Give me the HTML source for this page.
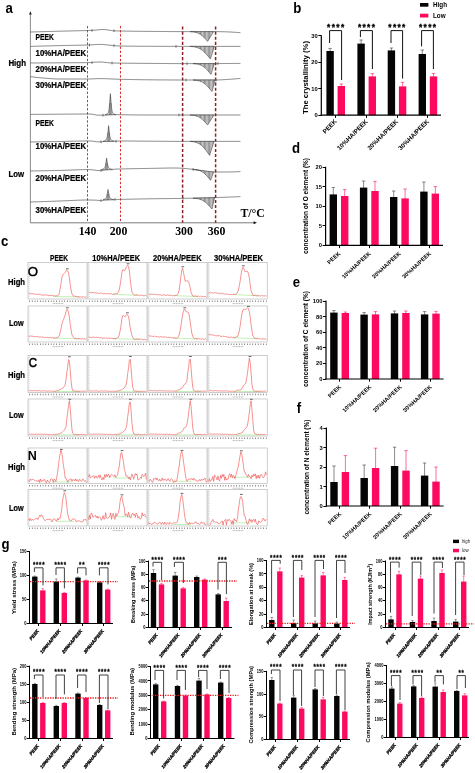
<!DOCTYPE html>
<html lang="en">
<head>
<meta charset="utf-8">
<title>Figure</title>
<style>html,body{margin:0;padding:0;background:#fff}body{width:475px;height:773px;overflow:hidden}svg{display:block;will-change:transform}</style>
</head>
<body>
<svg width="475" height="773" viewBox="0 0 475 773" style="display:block">
<rect x="0" y="0" width="475" height="773" fill="#fff"/>
<defs><pattern id="hatch" width="1.3" height="4" patternUnits="userSpaceOnUse"><rect width="1.3" height="4" fill="#c9c9c9"/><rect width="0.5" height="4" fill="#7d7d7d"/></pattern></defs>
<line x1="30.4" y1="13" x2="30.4" y2="222.8" stroke="#5a5a5a" stroke-width="0.7"/>
<path d="M30.4 11.2 L29 14.6 L31.8 14.6 Z" stroke="none" stroke-width="0" fill="#222"/>
<line x1="30.4" y1="222.8" x2="254.5" y2="222.8" stroke="#5a5a5a" stroke-width="0.8"/>
<path d="M257 222.8 L253.6 221.3 L253.6 224.3 Z" stroke="none" stroke-width="0" fill="#111"/>
<line x1="87.5" y1="26" x2="87.5" y2="222.8" stroke="#d8262a" stroke-width="0.95" stroke-dasharray="2.4 1.7"/>
<line x1="120.5" y1="26" x2="120.5" y2="222.8" stroke="#d8262a" stroke-width="0.95" stroke-dasharray="2.4 1.7"/>
<line x1="182.6" y1="26.5" x2="182.6" y2="222.8" stroke="#8c2024" stroke-width="1.5" stroke-dasharray="3.1 2.0"/>
<line x1="215.6" y1="26.5" x2="215.6" y2="222.8" stroke="#8c2024" stroke-width="1.5" stroke-dasharray="3.1 2.0"/>
<path d="M30.4 32 L31.4 31.97 L32.4 31.94 L33.4 31.92 L34.4 31.89 L35.4 31.86 L36.4 31.83 L37.4 31.81 L38.4 31.78 L39.4 31.75 L40.4 31.72 L41.4 31.7 L42.4 31.67 L43.4 31.64 L44.4 31.61 L45.4 31.59 L46.4 31.56 L47.4 31.53 L48.4 31.51 L49.4 31.48 L50.4 31.45 L51.4 31.43 L52.4 31.4 L53.4 31.37 L54.4 31.35 L55.4 31.32 L56.4 31.29 L57.4 31.27 L58.4 31.24 L59.4 31.22 L60.4 31.19 L61.4 31.16 L62.4 31.14 L63.4 31.11 L64.4 31.09 L65.4 31.06 L66.4 31.04 L67.4 31.01 L68.4 30.99 L69.4 30.96 L70.4 30.94 L71.4 30.91 L72.4 30.89 L73.4 30.86 L74.4 30.84 L75.4 30.81 L76.4 30.79 L77.4 30.76 L78.4 30.74 L79.4 30.71 L80.4 30.69 L81.4 30.66 L82.4 30.64 L83.4 30.61 L84.4 30.59 L85.4 30.56 L86.4 30.54 L87.4 30.51 L88.4 30.49 L89.4 30.47 L90.4 30.45 L91.4 30.42 L92.4 30.38 L93.4 30.32 L94.4 30.24 L95.4 30.14 L96.4 30.03 L97.4 29.91 L98.4 29.8 L99.4 29.7 L100.4 29.61 L101.4 29.54 L102.4 29.51 L103.4 29.5 L104.4 29.55 L105.4 29.64 L106.4 29.76 L107.4 29.91 L108.4 30.07 L109.4 30.23 L110.4 30.39 L111.4 30.54 L112.4 30.67 L113.4 30.76 L114.4 30.82 L115.4 30.86 L116.4 30.9 L117.4 30.93 L118.4 30.96 L119.4 30.99 L120.4 31.01 L121.4 31.03 L122.4 31.05 L123.4 31.07 L124.4 31.09 L125.4 31.1 L126.4 31.12 L127.4 31.14 L128.4 31.15 L129.4 31.17 L130.4 31.18 L131.4 31.2 L132.4 31.21 L133.4 31.23 L134.4 31.24 L135.4 31.25 L136.4 31.26 L137.4 31.28 L138.4 31.29 L139.4 31.3 L140.4 31.31 L141.4 31.32 L142.4 31.33 L143.4 31.34 L144.4 31.35 L145.4 31.36 L146.4 31.37 L147.4 31.38 L148.4 31.39 L149.4 31.39 L150.4 31.4 L151.4 31.41 L152.4 31.42 L153.4 31.43 L154.4 31.44 L155.4 31.45 L156.4 31.46 L157.4 31.46 L158.4 31.47 L159.4 31.48 L160.4 31.49 L161.4 31.5 L162.4 31.51 L163.4 31.51 L164.4 31.52 L165.4 31.53 L166.4 31.54 L167.4 31.54 L168.4 31.55 L169.4 31.56 L170.4 31.56 L171.4 31.57 L172.4 31.57 L173.4 31.58 L174.4 31.58 L175.4 31.59 L176.4 31.59 L177.4 31.59 L178.4 31.6 L179.4 31.6 L180.4 31.6 L181.4 31.6 L182.4 31.6 L183.4 31.6 L184.4 31.6 L185.4 31.6 L186.4 31.6 L187.4 31.6 L188.4 31.6 L189.4 31.6 L190.4 31.6 L191.4 31.6 L192.4 31.6 L193.4 31.6 L194.4 31.6 L195.4 31.6 L196.4 31.6 L197.4 31.6 L198.4 31.6 L199.4 31.6 L200.4 31.6 L201.4 31.6 L202.4 31.6 L203.4 31.6 L204.4 31.6 L205.4 31.6 L206.4 31.6 L207.4 31.6 L208.4 31.6 L209.4 31.6 L210.4 31.6 L211.4 31.6 L212.4 31.6 L213.4 31.6 L214.4 31.6 L215.4 31.6 L216.4 31.61 L217.4 31.63 L218.4 31.64 L219.4 31.66 L220.4 31.68 L221.4 31.71 L222.4 31.73 L223.4 31.76 L224.4 31.78 L225.4 31.81 L226.4 31.84 L227.4 31.88 L228.4 31.92 L229.4 31.97 L230.4 32.02 L231.4 32.07 L232.4 32.13 L233.4 32.19 L234.4 32.25 L235.4 32.32 L236.4 32.39 L237.4 32.46 L238.4 32.54 L239.4 32.62 L240.4 32.7" stroke="#404040" stroke-width="0.65" fill="none"/>
<rect x="91.5" y="29.1" width="1" height="2.6" fill="#6a6a6a"/>
<rect x="113.5" y="29.5" width="1" height="2.6" fill="#6a6a6a"/>
<path d="M190 31.6 C199.68 31.9 202.67 36.01 207.6 41.4 L213.6 31.6 Z" stroke="#404040" stroke-width="0.55" fill="url(#hatch)"/>
<path d="M30.4 46.4 L31.4 46.37 L32.4 46.34 L33.4 46.31 L34.4 46.28 L35.4 46.25 L36.4 46.22 L37.4 46.2 L38.4 46.17 L39.4 46.14 L40.4 46.11 L41.4 46.08 L42.4 46.05 L43.4 46.03 L44.4 46 L45.4 45.97 L46.4 45.95 L47.4 45.92 L48.4 45.89 L49.4 45.87 L50.4 45.84 L51.4 45.81 L52.4 45.79 L53.4 45.76 L54.4 45.74 L55.4 45.71 L56.4 45.69 L57.4 45.66 L58.4 45.64 L59.4 45.61 L60.4 45.59 L61.4 45.57 L62.4 45.55 L63.4 45.52 L64.4 45.5 L65.4 45.48 L66.4 45.47 L67.4 45.45 L68.4 45.43 L69.4 45.41 L70.4 45.39 L71.4 45.37 L72.4 45.36 L73.4 45.34 L74.4 45.32 L75.4 45.3 L76.4 45.28 L77.4 45.26 L78.4 45.24 L79.4 45.22 L80.4 45.2 L81.4 45.18 L82.4 45.15 L83.4 45.13 L84.4 45.1 L85.4 45.08 L86.4 45.05 L87.4 45.02 L88.4 44.99 L89.4 44.94 L90.4 44.89 L91.4 44.83 L92.4 44.76 L93.4 44.69 L94.4 44.63 L95.4 44.56 L96.4 44.51 L97.4 44.46 L98.4 44.42 L99.4 44.4 L100.4 44.4 L101.4 44.42 L102.4 44.47 L103.4 44.53 L104.4 44.61 L105.4 44.7 L106.4 44.81 L107.4 44.92 L108.4 45.03 L109.4 45.14 L110.4 45.26 L111.4 45.36 L112.4 45.46 L113.4 45.55 L114.4 45.63 L115.4 45.71 L116.4 45.79 L117.4 45.87 L118.4 45.94 L119.4 45.98 L120.4 46.01 L121.4 46.03 L122.4 46.05 L123.4 46.06 L124.4 46.08 L125.4 46.1 L126.4 46.11 L127.4 46.13 L128.4 46.14 L129.4 46.15 L130.4 46.16 L131.4 46.18 L132.4 46.19 L133.4 46.2 L134.4 46.2 L135.4 46.21 L136.4 46.22 L137.4 46.23 L138.4 46.24 L139.4 46.24 L140.4 46.25 L141.4 46.26 L142.4 46.26 L143.4 46.27 L144.4 46.27 L145.4 46.28 L146.4 46.28 L147.4 46.29 L148.4 46.29 L149.4 46.3 L150.4 46.3 L151.4 46.31 L152.4 46.31 L153.4 46.32 L154.4 46.32 L155.4 46.33 L156.4 46.33 L157.4 46.33 L158.4 46.34 L159.4 46.34 L160.4 46.35 L161.4 46.35 L162.4 46.36 L163.4 46.36 L164.4 46.36 L165.4 46.37 L166.4 46.37 L167.4 46.37 L168.4 46.38 L169.4 46.38 L170.4 46.38 L171.4 46.39 L172.4 46.39 L173.4 46.39 L174.4 46.39 L175.4 46.39 L176.4 46.4 L177.4 46.4 L178.4 46.4 L179.4 46.4 L180.4 46.4 L181.4 46.4 L182.4 46.4 L183.4 46.4 L184.4 46.4 L185.4 46.4 L186.4 46.4 L187.4 46.4 L188.4 46.4 L189.4 46.4 L190.4 46.4 L191.4 46.4 L192.4 46.4 L193.4 46.4 L194.4 46.4 L195.4 46.4 L196.4 46.4 L197.4 46.4 L198.4 46.4 L199.4 46.4 L200.4 46.4 L201.4 46.4 L202.4 46.4 L203.4 46.4 L204.4 46.4 L205.4 46.4 L206.4 46.4 L207.4 46.4 L208.4 46.4 L209.4 46.4 L210.4 46.4 L211.4 46.4 L212.4 46.4 L213.4 46.4 L214.4 46.4 L215.4 46.4 L216.4 46.4 L217.4 46.4 L218.4 46.4 L219.4 46.4 L220.4 46.4 L221.4 46.4 L222.4 46.4 L223.4 46.4 L224.4 46.4 L225.4 46.4 L226.4 46.4 L227.4 46.4 L228.4 46.4 L229.4 46.4 L230.4 46.4 L231.4 46.4 L232.4 46.4 L233.4 46.4 L234.4 46.4 L235.4 46.4 L236.4 46.4 L237.4 46.4 L238.4 46.4 L239.4 46.4 L240.4 46.4" stroke="#404040" stroke-width="0.65" fill="none"/>
<rect x="89" y="43.7" width="1" height="2.6" fill="#6a6a6a"/>
<rect x="113.5" y="44.3" width="1" height="2.6" fill="#6a6a6a"/>
<rect x="175.5" y="45.1" width="1" height="2.6" fill="#6a6a6a"/>
<path d="M190 46.4 C201.22 46.7 204.69 52.07 210.4 59 L214.4 46.4 Z" stroke="#404040" stroke-width="0.55" fill="url(#hatch)"/>
<path d="M30.4 63 L31.4 62.99 L32.4 62.99 L33.4 62.98 L34.4 62.97 L35.4 62.97 L36.4 62.96 L37.4 62.95 L38.4 62.95 L39.4 62.94 L40.4 62.93 L41.4 62.93 L42.4 62.92 L43.4 62.91 L44.4 62.91 L45.4 62.9 L46.4 62.89 L47.4 62.89 L48.4 62.88 L49.4 62.87 L50.4 62.87 L51.4 62.86 L52.4 62.85 L53.4 62.85 L54.4 62.84 L55.4 62.83 L56.4 62.82 L57.4 62.82 L58.4 62.81 L59.4 62.8 L60.4 62.8 L61.4 62.79 L62.4 62.78 L63.4 62.78 L64.4 62.77 L65.4 62.77 L66.4 62.76 L67.4 62.76 L68.4 62.75 L69.4 62.75 L70.4 62.74 L71.4 62.74 L72.4 62.73 L73.4 62.73 L74.4 62.72 L75.4 62.72 L76.4 62.71 L77.4 62.7 L78.4 62.7 L79.4 62.69 L80.4 62.68 L81.4 62.67 L82.4 62.66 L83.4 62.65 L84.4 62.64 L85.4 62.63 L86.4 62.62 L87.4 62.61 L88.4 62.59 L89.4 62.56 L90.4 62.52 L91.4 62.46 L92.4 62.39 L93.4 62.32 L94.4 62.25 L95.4 62.18 L96.4 62.12 L97.4 62.07 L98.4 62.03 L99.4 62 L100.4 62 L101.4 62.03 L102.4 62.1 L103.4 62.18 L104.4 62.28 L105.4 62.4 L106.4 62.52 L107.4 62.63 L108.4 62.75 L109.4 62.85 L110.4 62.93 L111.4 62.98 L112.4 63.01 L113.4 63.03 L114.4 63.05 L115.4 63.07 L116.4 63.09 L117.4 63.1 L118.4 63.12 L119.4 63.13 L120.4 63.15 L121.4 63.16 L122.4 63.18 L123.4 63.19 L124.4 63.2 L125.4 63.21 L126.4 63.22 L127.4 63.23 L128.4 63.24 L129.4 63.25 L130.4 63.26 L131.4 63.27 L132.4 63.28 L133.4 63.28 L134.4 63.29 L135.4 63.3 L136.4 63.31 L137.4 63.31 L138.4 63.32 L139.4 63.33 L140.4 63.33 L141.4 63.34 L142.4 63.35 L143.4 63.35 L144.4 63.36 L145.4 63.37 L146.4 63.37 L147.4 63.38 L148.4 63.39 L149.4 63.4 L150.4 63.4 L151.4 63.41 L152.4 63.42 L153.4 63.43 L154.4 63.44 L155.4 63.44 L156.4 63.45 L157.4 63.46 L158.4 63.47 L159.4 63.48 L160.4 63.49 L161.4 63.49 L162.4 63.5 L163.4 63.51 L164.4 63.52 L165.4 63.53 L166.4 63.53 L167.4 63.54 L168.4 63.55 L169.4 63.55 L170.4 63.56 L171.4 63.57 L172.4 63.57 L173.4 63.58 L174.4 63.58 L175.4 63.59 L176.4 63.59 L177.4 63.59 L178.4 63.6 L179.4 63.6 L180.4 63.6 L181.4 63.6 L182.4 63.6 L183.4 63.6 L184.4 63.6 L185.4 63.6 L186.4 63.6 L187.4 63.6 L188.4 63.6 L189.4 63.6 L190.4 63.6 L191.4 63.6 L192.4 63.6 L193.4 63.6 L194.4 63.6 L195.4 63.6 L196.4 63.6 L197.4 63.59 L198.4 63.59 L199.4 63.59 L200.4 63.59 L201.4 63.59 L202.4 63.59 L203.4 63.59 L204.4 63.59 L205.4 63.58 L206.4 63.58 L207.4 63.58 L208.4 63.58 L209.4 63.58 L210.4 63.57 L211.4 63.57 L212.4 63.57 L213.4 63.56 L214.4 63.56 L215.4 63.56 L216.4 63.55 L217.4 63.55 L218.4 63.55 L219.4 63.54 L220.4 63.54 L221.4 63.53 L222.4 63.53 L223.4 63.52 L224.4 63.52 L225.4 63.51 L226.4 63.51 L227.4 63.5 L228.4 63.5 L229.4 63.49 L230.4 63.48 L231.4 63.48 L232.4 63.47 L233.4 63.46 L234.4 63.45 L235.4 63.44 L236.4 63.44 L237.4 63.43 L238.4 63.42 L239.4 63.41 L240.4 63.4" stroke="#404040" stroke-width="0.65" fill="none"/>
<rect x="91.5" y="61.3" width="1" height="2.6" fill="#6a6a6a"/>
<rect x="111.5" y="61.7" width="1" height="2.6" fill="#6a6a6a"/>
<rect x="186.5" y="62.3" width="1" height="2.6" fill="#6a6a6a"/>
<rect x="217.5" y="62.2" width="1" height="2.6" fill="#6a6a6a"/>
<path d="M193 63.6 C202.9 63.9 205.96 68.46 211 74.4 L214.4 63.6 Z" stroke="#404040" stroke-width="0.55" fill="url(#hatch)"/>
<path d="M30.4 76.6 L31.4 76.74 L32.4 76.87 L33.4 77 L34.4 77.13 L35.4 77.25 L36.4 77.37 L37.4 77.49 L38.4 77.6 L39.4 77.7 L40.4 77.8 L41.4 77.9 L42.4 77.99 L43.4 78.08 L44.4 78.16 L45.4 78.23 L46.4 78.3 L47.4 78.38 L48.4 78.45 L49.4 78.52 L50.4 78.6 L51.4 78.66 L52.4 78.73 L53.4 78.79 L54.4 78.84 L55.4 78.89 L56.4 78.93 L57.4 78.96 L58.4 78.99 L59.4 79 L60.4 79 L61.4 79 L62.4 79 L63.4 79 L64.4 79 L65.4 79 L66.4 79 L67.4 79 L68.4 79 L69.4 79 L70.4 79 L71.4 79 L72.4 79 L73.4 79 L74.4 79 L75.4 79 L76.4 79 L77.4 79 L78.4 79 L79.4 79 L80.4 79 L81.4 79 L82.4 79 L83.4 79 L84.4 79 L85.4 79 L86.4 79 L87.4 79 L88.4 79 L89.4 78.98 L90.4 78.96 L91.4 78.92 L92.4 78.88 L93.4 78.83 L94.4 78.78 L95.4 78.73 L96.4 78.69 L97.4 78.65 L98.4 78.62 L99.4 78.6 L100.4 78.6 L101.4 78.61 L102.4 78.62 L103.4 78.64 L104.4 78.67 L105.4 78.7 L106.4 78.74 L107.4 78.78 L108.4 78.82 L109.4 78.86 L110.4 78.91 L111.4 78.96 L112.4 79.01 L113.4 79.05 L114.4 79.1 L115.4 79.14 L116.4 79.18 L117.4 79.22 L118.4 79.26 L119.4 79.29 L120.4 79.31 L121.4 79.33 L122.4 79.35 L123.4 79.38 L124.4 79.4 L125.4 79.42 L126.4 79.44 L127.4 79.46 L128.4 79.48 L129.4 79.5 L130.4 79.52 L131.4 79.54 L132.4 79.56 L133.4 79.57 L134.4 79.59 L135.4 79.61 L136.4 79.63 L137.4 79.64 L138.4 79.66 L139.4 79.67 L140.4 79.69 L141.4 79.7 L142.4 79.71 L143.4 79.73 L144.4 79.74 L145.4 79.75 L146.4 79.76 L147.4 79.77 L148.4 79.78 L149.4 79.79 L150.4 79.8 L151.4 79.81 L152.4 79.82 L153.4 79.83 L154.4 79.84 L155.4 79.85 L156.4 79.86 L157.4 79.87 L158.4 79.88 L159.4 79.88 L160.4 79.89 L161.4 79.9 L162.4 79.91 L163.4 79.92 L164.4 79.92 L165.4 79.93 L166.4 79.94 L167.4 79.95 L168.4 79.95 L169.4 79.96 L170.4 79.96 L171.4 79.97 L172.4 79.98 L173.4 79.98 L174.4 79.98 L175.4 79.99 L176.4 79.99 L177.4 79.99 L178.4 80 L179.4 80 L180.4 80 L181.4 80 L182.4 80 L183.4 80 L184.4 80 L185.4 80 L186.4 80 L187.4 80 L188.4 80 L189.4 80 L190.4 80 L191.4 80 L192.4 80 L193.4 80 L194.4 80 L195.4 80 L196.4 80 L197.4 80 L198.4 80 L199.4 80 L200.4 80 L201.4 80 L202.4 80 L203.4 80 L204.4 80 L205.4 80 L206.4 80 L207.4 80 L208.4 80 L209.4 80 L210.4 80 L211.4 80 L212.4 80 L213.4 80 L214.4 80 L215.4 80 L216.4 79.99 L217.4 79.97 L218.4 79.94 L219.4 79.9 L220.4 79.85 L221.4 79.8 L222.4 79.74 L223.4 79.69 L224.4 79.62 L225.4 79.56 L226.4 79.5 L227.4 79.44 L228.4 79.38 L229.4 79.31 L230.4 79.25 L231.4 79.18 L232.4 79.1 L233.4 79.02 L234.4 78.94 L235.4 78.86 L236.4 78.77 L237.4 78.68 L238.4 78.59 L239.4 78.5 L240.4 78.4" stroke="#404040" stroke-width="0.65" fill="none"/>
<rect x="185.5" y="78.7" width="1" height="2.6" fill="#6a6a6a"/>
<rect x="215.5" y="78.7" width="1" height="2.6" fill="#6a6a6a"/>
<path d="M193 80 C203.45 80.3 206.68 85.22 212 91.6 L215 80 Z" stroke="#404040" stroke-width="0.55" fill="url(#hatch)"/>
<path d="M30.4 114.4 L31.4 114.39 L32.4 114.39 L33.4 114.38 L34.4 114.37 L35.4 114.37 L36.4 114.36 L37.4 114.35 L38.4 114.35 L39.4 114.34 L40.4 114.33 L41.4 114.33 L42.4 114.32 L43.4 114.31 L44.4 114.31 L45.4 114.3 L46.4 114.29 L47.4 114.29 L48.4 114.28 L49.4 114.27 L50.4 114.27 L51.4 114.26 L52.4 114.25 L53.4 114.25 L54.4 114.24 L55.4 114.23 L56.4 114.22 L57.4 114.22 L58.4 114.21 L59.4 114.2 L60.4 114.2 L61.4 114.19 L62.4 114.18 L63.4 114.17 L64.4 114.17 L65.4 114.16 L66.4 114.15 L67.4 114.14 L68.4 114.13 L69.4 114.12 L70.4 114.11 L71.4 114.1 L72.4 114.09 L73.4 114.08 L74.4 114.07 L75.4 114.06 L76.4 114.05 L77.4 114.05 L78.4 114.04 L79.4 114.03 L80.4 114.03 L81.4 114.02 L82.4 114.01 L83.4 114.01 L84.4 114.01 L85.4 114 L86.4 114 L87.4 114 L88.4 114 L89.4 114.03 L90.4 114.09 L91.4 114.16 L92.4 114.25 L93.4 114.35 L94.4 114.54 L95.4 114.78 L96.4 115.01 L97.4 115.17 L98.4 115.2 L99.4 115.2 L100.4 115.2 L101.4 115.2 L102.4 115.2 L103.4 115.2 L104.4 115.19 L105.4 115.09 L106.4 114.94 L107.4 114.82 L108.4 114.74 L109.4 114.66 L110.4 114.59 L111.4 114.54 L112.4 114.51 L113.4 114.5 L114.4 114.52 L115.4 114.55 L116.4 114.58 L117.4 114.62 L118.4 114.66 L119.4 114.69 L120.4 114.71 L121.4 114.72 L122.4 114.74 L123.4 114.75 L124.4 114.77 L125.4 114.79 L126.4 114.8 L127.4 114.81 L128.4 114.83 L129.4 114.84 L130.4 114.86 L131.4 114.87 L132.4 114.88 L133.4 114.89 L134.4 114.91 L135.4 114.92 L136.4 114.93 L137.4 114.94 L138.4 114.95 L139.4 114.95 L140.4 114.96 L141.4 114.97 L142.4 114.98 L143.4 114.98 L144.4 114.99 L145.4 114.99 L146.4 114.99 L147.4 115 L148.4 115 L149.4 115 L150.4 115 L151.4 115 L152.4 115 L153.4 115 L154.4 115 L155.4 115 L156.4 115 L157.4 115 L158.4 115 L159.4 115 L160.4 115 L161.4 115 L162.4 115 L163.4 115 L164.4 115 L165.4 115 L166.4 115 L167.4 115 L168.4 115 L169.4 115 L170.4 115 L171.4 115 L172.4 115 L173.4 115 L174.4 115 L175.4 115 L176.4 115 L177.4 115 L178.4 115 L179.4 115 L180.4 115 L181.4 115 L182.4 115 L183.4 115 L184.4 115 L185.4 115 L186.4 115 L187.4 115 L188.4 115 L189.4 115 L190.4 115 L191.4 115 L192.4 115 L193.4 115 L194.4 115 L195.4 115 L196.4 115 L197.4 115 L198.4 115 L199.4 115 L200.4 115 L201.4 115 L202.4 115 L203.4 115 L204.4 115 L205.4 115 L206.4 115 L207.4 115 L208.4 115 L209.4 115 L210.4 115 L211.4 115 L212.4 115 L213.4 115 L214.4 115 L215.4 115 L216.4 115 L217.4 115 L218.4 115 L219.4 115 L220.4 115 L221.4 115 L222.4 115 L223.4 115 L224.4 115 L225.4 115 L226.4 115 L227.4 115 L228.4 115 L229.4 115 L230.4 115 L231.4 115 L232.4 115 L233.4 115 L234.4 115 L235.4 115 L236.4 115 L237.4 115 L238.4 115 L239.4 115 L240.4 115" stroke="#404040" stroke-width="0.65" fill="none"/>
<rect x="102.5" y="113.9" width="1" height="2.6" fill="#6a6a6a"/>
<path d="M105 114.8 L107.2 113.9 C109.12 113.2 109.4 106.32 110.4 93.6 C111.4 106.32 111.68 113.2 113.6 113.9 L115.8 114.8 Z" stroke="#404040" stroke-width="0.55" fill="#d4d4d4"/>
<line x1="110.4" y1="95.1" x2="110.4" y2="114.8" stroke="#404040" stroke-width="0.45"/>
<line x1="109.5" y1="103.14" x2="109.5" y2="114.8" stroke="#404040" stroke-width="0.4"/>
<line x1="111.3" y1="103.14" x2="111.3" y2="114.8" stroke="#404040" stroke-width="0.4"/>
<rect x="178.5" y="113.7" width="1" height="2.6" fill="#6a6a6a"/>
<path d="M190 115 C199.68 115.3 202.67 119.5 207.6 125 L214 115 Z" stroke="#404040" stroke-width="0.55" fill="url(#hatch)"/>
<path d="M30.4 142 L31.4 141.98 L32.4 141.97 L33.4 141.95 L34.4 141.93 L35.4 141.92 L36.4 141.9 L37.4 141.88 L38.4 141.87 L39.4 141.85 L40.4 141.83 L41.4 141.82 L42.4 141.8 L43.4 141.78 L44.4 141.77 L45.4 141.75 L46.4 141.73 L47.4 141.72 L48.4 141.7 L49.4 141.68 L50.4 141.67 L51.4 141.65 L52.4 141.63 L53.4 141.61 L54.4 141.6 L55.4 141.58 L56.4 141.56 L57.4 141.55 L58.4 141.53 L59.4 141.51 L60.4 141.49 L61.4 141.47 L62.4 141.45 L63.4 141.43 L64.4 141.41 L65.4 141.39 L66.4 141.37 L67.4 141.34 L68.4 141.32 L69.4 141.3 L70.4 141.27 L71.4 141.25 L72.4 141.23 L73.4 141.2 L74.4 141.18 L75.4 141.16 L76.4 141.14 L77.4 141.12 L78.4 141.1 L79.4 141.08 L80.4 141.06 L81.4 141.05 L82.4 141.04 L83.4 141.03 L84.4 141.02 L85.4 141.01 L86.4 141 L87.4 141 L88.4 141 L89.4 141.02 L90.4 141.06 L91.4 141.1 L92.4 141.16 L93.4 141.24 L94.4 141.41 L95.4 141.61 L96.4 141.77 L97.4 141.8 L98.4 141.8 L99.4 141.8 L100.4 141.8 L101.4 141.79 L102.4 141.7 L103.4 141.56 L104.4 141.44 L105.4 141.39 L106.4 141.36 L107.4 141.34 L108.4 141.32 L109.4 141.31 L110.4 141.29 L111.4 141.28 L112.4 141.27 L113.4 141.26 L114.4 141.24 L115.4 141.22 L116.4 141.19 L117.4 141.13 L118.4 141.06 L119.4 141.01 L120.4 141 L121.4 141 L122.4 141 L123.4 141 L124.4 141.01 L125.4 141.01 L126.4 141.02 L127.4 141.02 L128.4 141.03 L129.4 141.03 L130.4 141.04 L131.4 141.05 L132.4 141.05 L133.4 141.06 L134.4 141.07 L135.4 141.08 L136.4 141.09 L137.4 141.1 L138.4 141.11 L139.4 141.11 L140.4 141.12 L141.4 141.13 L142.4 141.14 L143.4 141.15 L144.4 141.16 L145.4 141.17 L146.4 141.17 L147.4 141.18 L148.4 141.19 L149.4 141.2 L150.4 141.2 L151.4 141.21 L152.4 141.22 L153.4 141.22 L154.4 141.23 L155.4 141.24 L156.4 141.25 L157.4 141.26 L158.4 141.26 L159.4 141.27 L160.4 141.28 L161.4 141.29 L162.4 141.3 L163.4 141.31 L164.4 141.31 L165.4 141.32 L166.4 141.33 L167.4 141.34 L168.4 141.34 L169.4 141.35 L170.4 141.36 L171.4 141.36 L172.4 141.37 L173.4 141.38 L174.4 141.38 L175.4 141.38 L176.4 141.39 L177.4 141.39 L178.4 141.4 L179.4 141.4 L180.4 141.4 L181.4 141.4 L182.4 141.4 L183.4 141.4 L184.4 141.4 L185.4 141.4 L186.4 141.4 L187.4 141.4 L188.4 141.4 L189.4 141.4 L190.4 141.4 L191.4 141.4 L192.4 141.4 L193.4 141.4 L194.4 141.4 L195.4 141.4 L196.4 141.4 L197.4 141.4 L198.4 141.4 L199.4 141.4 L200.4 141.4 L201.4 141.4 L202.4 141.4 L203.4 141.4 L204.4 141.4 L205.4 141.4 L206.4 141.4 L207.4 141.4 L208.4 141.4 L209.4 141.4 L210.4 141.4 L211.4 141.4 L212.4 141.4 L213.4 141.4 L214.4 141.4 L215.4 141.4 L216.4 141.4 L217.4 141.4 L218.4 141.4 L219.4 141.4 L220.4 141.4 L221.4 141.4 L222.4 141.4 L223.4 141.4 L224.4 141.4 L225.4 141.4 L226.4 141.4 L227.4 141.4 L228.4 141.4 L229.4 141.4 L230.4 141.4 L231.4 141.4 L232.4 141.4 L233.4 141.4 L234.4 141.4 L235.4 141.4 L236.4 141.4 L237.4 141.4 L238.4 141.4 L239.4 141.4 L240.4 141.4" stroke="#404040" stroke-width="0.65" fill="none"/>
<rect x="100.5" y="140.5" width="1" height="2.6" fill="#6a6a6a"/>
<rect x="115.5" y="139.9" width="1" height="2.6" fill="#6a6a6a"/>
<path d="M103 141.4 L105.2 140.5 C107.24 139.8 107.6 135.08 108.6 125.6 C109.6 135.08 109.96 139.8 112 140.5 L114.2 141.4 Z" stroke="#404040" stroke-width="0.55" fill="#d4d4d4"/>
<line x1="108.6" y1="127.1" x2="108.6" y2="141.4" stroke="#404040" stroke-width="0.45"/>
<line x1="107.7" y1="132.71" x2="107.7" y2="141.4" stroke="#404040" stroke-width="0.4"/>
<line x1="109.5" y1="132.71" x2="109.5" y2="141.4" stroke="#404040" stroke-width="0.4"/>
<path d="M190 141.4 C200.78 141.7 204.11 147.7 209.6 155.4 L214 141.4 Z" stroke="#404040" stroke-width="0.55" fill="url(#hatch)"/>
<path d="M30.4 171 L31.4 170.98 L32.4 170.97 L33.4 170.95 L34.4 170.93 L35.4 170.92 L36.4 170.9 L37.4 170.88 L38.4 170.86 L39.4 170.84 L40.4 170.82 L41.4 170.8 L42.4 170.78 L43.4 170.77 L44.4 170.74 L45.4 170.72 L46.4 170.7 L47.4 170.68 L48.4 170.66 L49.4 170.64 L50.4 170.62 L51.4 170.6 L52.4 170.57 L53.4 170.55 L54.4 170.53 L55.4 170.51 L56.4 170.48 L57.4 170.46 L58.4 170.44 L59.4 170.41 L60.4 170.39 L61.4 170.36 L62.4 170.34 L63.4 170.31 L64.4 170.27 L65.4 170.24 L66.4 170.2 L67.4 170.17 L68.4 170.13 L69.4 170.09 L70.4 170.05 L71.4 170.01 L72.4 169.98 L73.4 169.94 L74.4 169.9 L75.4 169.87 L76.4 169.83 L77.4 169.8 L78.4 169.77 L79.4 169.74 L80.4 169.71 L81.4 169.68 L82.4 169.66 L83.4 169.64 L84.4 169.63 L85.4 169.61 L86.4 169.61 L87.4 169.6 L88.4 169.6 L89.4 169.63 L90.4 169.69 L91.4 169.76 L92.4 169.85 L93.4 169.95 L94.4 170.12 L95.4 170.32 L96.4 170.47 L97.4 170.5 L98.4 170.5 L99.4 170.5 L100.4 170.5 L101.4 170.48 L102.4 170.32 L103.4 170.1 L104.4 169.96 L105.4 169.85 L106.4 169.76 L107.4 169.68 L108.4 169.61 L109.4 169.54 L110.4 169.47 L111.4 169.41 L112.4 169.35 L113.4 169.29 L114.4 169.24 L115.4 169.19 L116.4 169.14 L117.4 169.1 L118.4 169.06 L119.4 169.02 L120.4 168.99 L121.4 168.96 L122.4 168.93 L123.4 168.9 L124.4 168.88 L125.4 168.85 L126.4 168.83 L127.4 168.8 L128.4 168.78 L129.4 168.76 L130.4 168.74 L131.4 168.72 L132.4 168.7 L133.4 168.68 L134.4 168.66 L135.4 168.64 L136.4 168.63 L137.4 168.61 L138.4 168.59 L139.4 168.58 L140.4 168.56 L141.4 168.54 L142.4 168.53 L143.4 168.51 L144.4 168.49 L145.4 168.48 L146.4 168.46 L147.4 168.44 L148.4 168.43 L149.4 168.41 L150.4 168.39 L151.4 168.37 L152.4 168.35 L153.4 168.33 L154.4 168.31 L155.4 168.29 L156.4 168.27 L157.4 168.25 L158.4 168.23 L159.4 168.21 L160.4 168.19 L161.4 168.17 L162.4 168.15 L163.4 168.13 L164.4 168.11 L165.4 168.09 L166.4 168.08 L167.4 168.06 L168.4 168.05 L169.4 168.03 L170.4 168.02 L171.4 168.01 L172.4 168.01 L173.4 168 L174.4 168 L175.4 168 L176.4 168.01 L177.4 168.04 L178.4 168.08 L179.4 168.13 L180.4 168.19 L181.4 168.25 L182.4 168.33 L183.4 168.4 L184.4 168.48 L185.4 168.55 L186.4 168.63 L187.4 168.72 L188.4 168.83 L189.4 168.95 L190.4 169.07 L191.4 169.2 L192.4 169.33 L193.4 169.45 L194.4 169.58 L195.4 169.72 L196.4 169.87 L197.4 170.03 L198.4 170.19 L199.4 170.36 L200.4 170.53 L201.4 170.69 L202.4 170.86 L203.4 171.02 L204.4 171.18 L205.4 171.33 L206.4 171.46 L207.4 171.59 L208.4 171.7 L209.4 171.8 L210.4 171.88 L211.4 171.94 L212.4 171.98 L213.4 172 L214.4 172 L215.4 172 L216.4 172 L217.4 172 L218.4 172 L219.4 172 L220.4 172 L221.4 172 L222.4 172 L223.4 172 L224.4 172 L225.4 172 L226.4 172 L227.4 171.99 L228.4 171.97 L229.4 171.96 L230.4 171.94 L231.4 171.91 L232.4 171.89 L233.4 171.86 L234.4 171.83 L235.4 171.79 L236.4 171.76 L237.4 171.72 L238.4 171.68 L239.4 171.64 L240.4 171.6" stroke="#404040" stroke-width="0.65" fill="none"/>
<rect x="100.5" y="169.2" width="1" height="2.6" fill="#6a6a6a"/>
<rect x="192.5" y="168.1" width="1" height="2.6" fill="#6a6a6a"/>
<path d="M101.4 169.7 L103.6 168.8 C105.4 168.1 105.6 165.02 106.6 158 C107.6 165.02 108.04 168.1 110.2 168.8 L112.4 169.7 Z" stroke="#404040" stroke-width="0.55" fill="#d4d4d4"/>
<line x1="106.6" y1="159.5" x2="106.6" y2="169.7" stroke="#404040" stroke-width="0.45"/>
<line x1="105.7" y1="163.26" x2="105.7" y2="169.7" stroke="#404040" stroke-width="0.4"/>
<line x1="107.5" y1="163.26" x2="107.5" y2="169.7" stroke="#404040" stroke-width="0.4"/>
<path d="M193 169.4 C202.68 169.7 205.67 174.35 210.6 180.4 L213.6 172 Z" stroke="#404040" stroke-width="0.55" fill="url(#hatch)"/>
<path d="M30.4 202 L31.4 201.97 L32.4 201.93 L33.4 201.9 L34.4 201.87 L35.4 201.84 L36.4 201.8 L37.4 201.77 L38.4 201.74 L39.4 201.7 L40.4 201.67 L41.4 201.64 L42.4 201.6 L43.4 201.57 L44.4 201.53 L45.4 201.5 L46.4 201.47 L47.4 201.43 L48.4 201.4 L49.4 201.36 L50.4 201.33 L51.4 201.3 L52.4 201.26 L53.4 201.23 L54.4 201.19 L55.4 201.16 L56.4 201.12 L57.4 201.09 L58.4 201.06 L59.4 201.02 L60.4 200.99 L61.4 200.95 L62.4 200.91 L63.4 200.87 L64.4 200.83 L65.4 200.78 L66.4 200.73 L67.4 200.69 L68.4 200.64 L69.4 200.59 L70.4 200.55 L71.4 200.5 L72.4 200.45 L73.4 200.41 L74.4 200.36 L75.4 200.32 L76.4 200.27 L77.4 200.23 L78.4 200.2 L79.4 200.16 L80.4 200.13 L81.4 200.1 L82.4 200.07 L83.4 200.05 L84.4 200.03 L85.4 200.02 L86.4 200.01 L87.4 200 L88.4 200 L89.4 200.01 L90.4 200.02 L91.4 200.04 L92.4 200.07 L93.4 200.1 L94.4 200.14 L95.4 200.18 L96.4 200.22 L97.4 200.31 L98.4 200.41 L99.4 200.52 L100.4 200.59 L101.4 200.59 L102.4 200.46 L103.4 200.27 L104.4 200.08 L105.4 199.96 L106.4 199.88 L107.4 199.8 L108.4 199.73 L109.4 199.67 L110.4 199.62 L111.4 199.59 L112.4 199.56 L113.4 199.53 L114.4 199.51 L115.4 199.49 L116.4 199.47 L117.4 199.45 L118.4 199.43 L119.4 199.41 L120.4 199.39 L121.4 199.37 L122.4 199.35 L123.4 199.33 L124.4 199.31 L125.4 199.28 L126.4 199.26 L127.4 199.24 L128.4 199.22 L129.4 199.2 L130.4 199.18 L131.4 199.15 L132.4 199.13 L133.4 199.11 L134.4 199.09 L135.4 199.07 L136.4 199.05 L137.4 199.03 L138.4 199.01 L139.4 198.99 L140.4 198.97 L141.4 198.95 L142.4 198.93 L143.4 198.91 L144.4 198.89 L145.4 198.88 L146.4 198.86 L147.4 198.84 L148.4 198.83 L149.4 198.81 L150.4 198.79 L151.4 198.78 L152.4 198.76 L153.4 198.75 L154.4 198.74 L155.4 198.72 L156.4 198.71 L157.4 198.7 L158.4 198.69 L159.4 198.68 L160.4 198.67 L161.4 198.65 L162.4 198.64 L163.4 198.63 L164.4 198.62 L165.4 198.61 L166.4 198.6 L167.4 198.59 L168.4 198.58 L169.4 198.57 L170.4 198.56 L171.4 198.54 L172.4 198.53 L173.4 198.52 L174.4 198.51 L175.4 198.5 L176.4 198.48 L177.4 198.47 L178.4 198.46 L179.4 198.44 L180.4 198.43 L181.4 198.41 L182.4 198.39 L183.4 198.38 L184.4 198.36 L185.4 198.34 L186.4 198.32 L187.4 198.3 L188.4 198.28 L189.4 198.26 L190.4 198.24 L191.4 198.22 L192.4 198.2 L193.4 198.18 L194.4 198.15 L195.4 198.13 L196.4 198.11 L197.4 198.08 L198.4 198.06 L199.4 198.03 L200.4 198.01 L201.4 197.98 L202.4 197.96 L203.4 197.93 L204.4 197.9 L205.4 197.88 L206.4 197.85 L207.4 197.82 L208.4 197.79 L209.4 197.77 L210.4 197.74 L211.4 197.71 L212.4 197.68 L213.4 197.65 L214.4 197.62 L215.4 197.59 L216.4 197.56 L217.4 197.52 L218.4 197.49 L219.4 197.46 L220.4 197.42 L221.4 197.39 L222.4 197.35 L223.4 197.32 L224.4 197.28 L225.4 197.24 L226.4 197.2 L227.4 197.16 L228.4 197.12 L229.4 197.08 L230.4 197.04 L231.4 197 L232.4 196.96 L233.4 196.91 L234.4 196.87 L235.4 196.83 L236.4 196.78 L237.4 196.74 L238.4 196.69 L239.4 196.65 L240.4 196.6" stroke="#404040" stroke-width="0.65" fill="none"/>
<rect x="100.5" y="199.3" width="1" height="2.6" fill="#6a6a6a"/>
<rect x="114.5" y="198.2" width="1" height="2.6" fill="#6a6a6a"/>
<rect x="182.5" y="197.1" width="1" height="2.6" fill="#6a6a6a"/>
<path d="M103 199.8 L105.2 198.9 C106.88 198.2 107 195.64 108 189.4 C109 195.64 109.36 198.2 111.4 198.9 L113.6 199.8 Z" stroke="#404040" stroke-width="0.55" fill="#d4d4d4"/>
<line x1="108" y1="190.9" x2="108" y2="199.8" stroke="#404040" stroke-width="0.45"/>
<line x1="107.1" y1="194.08" x2="107.1" y2="199.8" stroke="#404040" stroke-width="0.4"/>
<line x1="108.9" y1="194.08" x2="108.9" y2="199.8" stroke="#404040" stroke-width="0.4"/>
<path d="M193 198.2 C203.45 198.5 206.68 203.06 212 209 L214.6 197.6 Z" stroke="#404040" stroke-width="0.55" fill="url(#hatch)"/>
<text x="35.6" y="40" font-family="'Liberation Sans', Arial, sans-serif" font-size="8.3" font-weight="bold" textLength="18.4" lengthAdjust="spacingAndGlyphs" stroke="#000" stroke-width="0.22">PEEK</text>
<text x="35.6" y="56" font-family="'Liberation Sans', Arial, sans-serif" font-size="8.3" font-weight="bold" textLength="50.6" lengthAdjust="spacingAndGlyphs" stroke="#000" stroke-width="0.22">10%HA/PEEK</text>
<text x="35.6" y="72" font-family="'Liberation Sans', Arial, sans-serif" font-size="8.3" font-weight="bold" textLength="50.6" lengthAdjust="spacingAndGlyphs" stroke="#000" stroke-width="0.22">20%HA/PEEK</text>
<text x="35.6" y="88" font-family="'Liberation Sans', Arial, sans-serif" font-size="8.3" font-weight="bold" textLength="50.6" lengthAdjust="spacingAndGlyphs" stroke="#000" stroke-width="0.22">30%HA/PEEK</text>
<text x="35.6" y="126.4" font-family="'Liberation Sans', Arial, sans-serif" font-size="8.3" font-weight="bold" textLength="18.4" lengthAdjust="spacingAndGlyphs" stroke="#000" stroke-width="0.22">PEEK</text>
<text x="35.6" y="149" font-family="'Liberation Sans', Arial, sans-serif" font-size="8.3" font-weight="bold" textLength="50.6" lengthAdjust="spacingAndGlyphs" stroke="#000" stroke-width="0.22">10%HA/PEEK</text>
<text x="35.6" y="181" font-family="'Liberation Sans', Arial, sans-serif" font-size="8.3" font-weight="bold" textLength="50.6" lengthAdjust="spacingAndGlyphs" stroke="#000" stroke-width="0.22">20%HA/PEEK</text>
<text x="35.6" y="213" font-family="'Liberation Sans', Arial, sans-serif" font-size="8.3" font-weight="bold" textLength="50.6" lengthAdjust="spacingAndGlyphs" stroke="#000" stroke-width="0.22">30%HA/PEEK</text>
<text x="8.4" y="66.4" font-family="'Liberation Sans', Arial, sans-serif" font-size="8.3" font-weight="bold" textLength="17.6" lengthAdjust="spacingAndGlyphs" stroke="#000" stroke-width="0.22">High</text>
<text x="8.4" y="177" font-family="'Liberation Sans', Arial, sans-serif" font-size="8.3" font-weight="bold" textLength="15.6" lengthAdjust="spacingAndGlyphs" stroke="#000" stroke-width="0.22">Low</text>
<text x="87.5" y="235.3" font-family="'Liberation Serif', 'Times New Roman', serif" font-size="11.8" font-weight="bold" text-anchor="middle">140</text>
<text x="118.5" y="235.3" font-family="'Liberation Serif', 'Times New Roman', serif" font-size="11.8" font-weight="bold" text-anchor="middle">200</text>
<text x="184" y="235.3" font-family="'Liberation Serif', 'Times New Roman', serif" font-size="11.8" font-weight="bold" text-anchor="middle">300</text>
<text x="216.5" y="235.3" font-family="'Liberation Serif', 'Times New Roman', serif" font-size="11.8" font-weight="bold" text-anchor="middle">360</text>
<text x="240.4" y="217.3" font-family="'Liberation Serif', 'Times New Roman', serif" font-size="11.8" font-weight="bold">T/°C</text>
<text x="50" y="261" font-family="'Liberation Sans', Arial, sans-serif" font-size="8.3" font-weight="bold" textLength="18" lengthAdjust="spacingAndGlyphs" stroke="#000" stroke-width="0.22">PEEK</text>
<text x="92.3" y="261" font-family="'Liberation Sans', Arial, sans-serif" font-size="8.3" font-weight="bold" textLength="47.8" lengthAdjust="spacingAndGlyphs" stroke="#000" stroke-width="0.22">10%HA/PEEK</text>
<text x="153" y="261" font-family="'Liberation Sans', Arial, sans-serif" font-size="8.3" font-weight="bold" textLength="48.6" lengthAdjust="spacingAndGlyphs" stroke="#000" stroke-width="0.22">20%HA/PEEK</text>
<text x="214" y="261" font-family="'Liberation Sans', Arial, sans-serif" font-size="8.3" font-weight="bold" textLength="49" lengthAdjust="spacingAndGlyphs" stroke="#000" stroke-width="0.22">30%HA/PEEK</text>
<text x="8" y="285" font-family="'Liberation Sans', Arial, sans-serif" font-size="8.3" font-weight="bold" textLength="17" lengthAdjust="spacingAndGlyphs" stroke="#000" stroke-width="0.22">High</text>
<text x="9" y="325.6" font-family="'Liberation Sans', Arial, sans-serif" font-size="8.3" font-weight="bold" textLength="14.6" lengthAdjust="spacingAndGlyphs" stroke="#000" stroke-width="0.22">Low</text>
<text x="8" y="378" font-family="'Liberation Sans', Arial, sans-serif" font-size="8.3" font-weight="bold" textLength="17" lengthAdjust="spacingAndGlyphs" stroke="#000" stroke-width="0.22">High</text>
<text x="9" y="418" font-family="'Liberation Sans', Arial, sans-serif" font-size="8.3" font-weight="bold" textLength="14.6" lengthAdjust="spacingAndGlyphs" stroke="#000" stroke-width="0.22">Low</text>
<text x="8" y="470" font-family="'Liberation Sans', Arial, sans-serif" font-size="8.3" font-weight="bold" textLength="17" lengthAdjust="spacingAndGlyphs" stroke="#000" stroke-width="0.22">High</text>
<text x="9" y="511" font-family="'Liberation Sans', Arial, sans-serif" font-size="8.3" font-weight="bold" textLength="14.6" lengthAdjust="spacingAndGlyphs" stroke="#000" stroke-width="0.22">Low</text>
<rect x="28" y="262.4" width="59" height="36.6" fill="#fff" stroke="#adadad" stroke-width="0.6"/>
<line x1="29.1" y1="263.9" x2="29.1" y2="297.5" stroke="#b9bec8" stroke-width="0.9" stroke-dasharray="0.7 1.3"/>
<line x1="29.2" y1="301.2" x2="86.4" y2="301.2" stroke="#6a6a6a" stroke-width="1.5" stroke-dasharray="0.75 1.95"/>
<line x1="52.6" y1="303.6" x2="63.4" y2="303.6" stroke="#a2a2a2" stroke-width="0.8" stroke-dasharray="1.1 0.5"/>
<rect x="88" y="262.4" width="59" height="36.6" fill="#fff" stroke="#adadad" stroke-width="0.6"/>
<line x1="89.1" y1="263.9" x2="89.1" y2="297.5" stroke="#b9bec8" stroke-width="0.9" stroke-dasharray="0.7 1.3"/>
<line x1="89.2" y1="301.2" x2="146.4" y2="301.2" stroke="#6a6a6a" stroke-width="1.5" stroke-dasharray="0.75 1.95"/>
<line x1="112.6" y1="303.6" x2="123.4" y2="303.6" stroke="#a2a2a2" stroke-width="0.8" stroke-dasharray="1.1 0.5"/>
<rect x="148" y="262.4" width="59" height="36.6" fill="#fff" stroke="#adadad" stroke-width="0.6"/>
<line x1="149.1" y1="263.9" x2="149.1" y2="297.5" stroke="#b9bec8" stroke-width="0.9" stroke-dasharray="0.7 1.3"/>
<line x1="149.2" y1="301.2" x2="206.4" y2="301.2" stroke="#6a6a6a" stroke-width="1.5" stroke-dasharray="0.75 1.95"/>
<line x1="172.6" y1="303.6" x2="183.4" y2="303.6" stroke="#a2a2a2" stroke-width="0.8" stroke-dasharray="1.1 0.5"/>
<rect x="208" y="262.4" width="59.2" height="36.6" fill="#fff" stroke="#adadad" stroke-width="0.6"/>
<line x1="209.1" y1="263.9" x2="209.1" y2="297.5" stroke="#b9bec8" stroke-width="0.9" stroke-dasharray="0.7 1.3"/>
<line x1="209.2" y1="301.2" x2="266.6" y2="301.2" stroke="#6a6a6a" stroke-width="1.5" stroke-dasharray="0.75 1.95"/>
<line x1="232.6" y1="303.6" x2="243.4" y2="303.6" stroke="#a2a2a2" stroke-width="0.8" stroke-dasharray="1.1 0.5"/>
<rect x="28" y="306" width="59" height="36" fill="#fff" stroke="#adadad" stroke-width="0.6"/>
<line x1="29.1" y1="307.5" x2="29.1" y2="340.5" stroke="#b9bec8" stroke-width="0.9" stroke-dasharray="0.7 1.3"/>
<line x1="29.2" y1="344.2" x2="86.4" y2="344.2" stroke="#6a6a6a" stroke-width="1.5" stroke-dasharray="0.75 1.95"/>
<line x1="52.6" y1="346.6" x2="63.4" y2="346.6" stroke="#a2a2a2" stroke-width="0.8" stroke-dasharray="1.1 0.5"/>
<rect x="88" y="306" width="59" height="36" fill="#fff" stroke="#adadad" stroke-width="0.6"/>
<line x1="89.1" y1="307.5" x2="89.1" y2="340.5" stroke="#b9bec8" stroke-width="0.9" stroke-dasharray="0.7 1.3"/>
<line x1="89.2" y1="344.2" x2="146.4" y2="344.2" stroke="#6a6a6a" stroke-width="1.5" stroke-dasharray="0.75 1.95"/>
<line x1="112.6" y1="346.6" x2="123.4" y2="346.6" stroke="#a2a2a2" stroke-width="0.8" stroke-dasharray="1.1 0.5"/>
<rect x="148" y="306" width="59" height="36" fill="#fff" stroke="#adadad" stroke-width="0.6"/>
<line x1="149.1" y1="307.5" x2="149.1" y2="340.5" stroke="#b9bec8" stroke-width="0.9" stroke-dasharray="0.7 1.3"/>
<line x1="149.2" y1="344.2" x2="206.4" y2="344.2" stroke="#6a6a6a" stroke-width="1.5" stroke-dasharray="0.75 1.95"/>
<line x1="172.6" y1="346.6" x2="183.4" y2="346.6" stroke="#a2a2a2" stroke-width="0.8" stroke-dasharray="1.1 0.5"/>
<rect x="208" y="306" width="59.2" height="36" fill="#fff" stroke="#adadad" stroke-width="0.6"/>
<line x1="209.1" y1="307.5" x2="209.1" y2="340.5" stroke="#b9bec8" stroke-width="0.9" stroke-dasharray="0.7 1.3"/>
<line x1="209.2" y1="344.2" x2="266.6" y2="344.2" stroke="#6a6a6a" stroke-width="1.5" stroke-dasharray="0.75 1.95"/>
<line x1="232.6" y1="346.6" x2="243.4" y2="346.6" stroke="#a2a2a2" stroke-width="0.8" stroke-dasharray="1.1 0.5"/>
<rect x="28" y="355.6" width="59" height="36.8" fill="#fff" stroke="#adadad" stroke-width="0.6"/>
<line x1="29.1" y1="357.1" x2="29.1" y2="390.9" stroke="#b9bec8" stroke-width="0.9" stroke-dasharray="0.7 1.3"/>
<line x1="29.2" y1="394.6" x2="86.4" y2="394.6" stroke="#6a6a6a" stroke-width="1.5" stroke-dasharray="0.75 1.95"/>
<line x1="52.6" y1="397" x2="63.4" y2="397" stroke="#a2a2a2" stroke-width="0.8" stroke-dasharray="1.1 0.5"/>
<rect x="88" y="355.6" width="59" height="36.8" fill="#fff" stroke="#adadad" stroke-width="0.6"/>
<line x1="89.1" y1="357.1" x2="89.1" y2="390.9" stroke="#b9bec8" stroke-width="0.9" stroke-dasharray="0.7 1.3"/>
<line x1="89.2" y1="394.6" x2="146.4" y2="394.6" stroke="#6a6a6a" stroke-width="1.5" stroke-dasharray="0.75 1.95"/>
<line x1="112.6" y1="397" x2="123.4" y2="397" stroke="#a2a2a2" stroke-width="0.8" stroke-dasharray="1.1 0.5"/>
<rect x="148" y="355.6" width="59" height="36.8" fill="#fff" stroke="#adadad" stroke-width="0.6"/>
<line x1="149.1" y1="357.1" x2="149.1" y2="390.9" stroke="#b9bec8" stroke-width="0.9" stroke-dasharray="0.7 1.3"/>
<line x1="149.2" y1="394.6" x2="206.4" y2="394.6" stroke="#6a6a6a" stroke-width="1.5" stroke-dasharray="0.75 1.95"/>
<line x1="172.6" y1="397" x2="183.4" y2="397" stroke="#a2a2a2" stroke-width="0.8" stroke-dasharray="1.1 0.5"/>
<rect x="208" y="355.6" width="59.2" height="36.8" fill="#fff" stroke="#adadad" stroke-width="0.6"/>
<line x1="209.1" y1="357.1" x2="209.1" y2="390.9" stroke="#b9bec8" stroke-width="0.9" stroke-dasharray="0.7 1.3"/>
<line x1="209.2" y1="394.6" x2="266.6" y2="394.6" stroke="#6a6a6a" stroke-width="1.5" stroke-dasharray="0.75 1.95"/>
<line x1="232.6" y1="397" x2="243.4" y2="397" stroke="#a2a2a2" stroke-width="0.8" stroke-dasharray="1.1 0.5"/>
<rect x="28" y="399" width="59" height="37" fill="#fff" stroke="#adadad" stroke-width="0.6"/>
<line x1="29.1" y1="400.5" x2="29.1" y2="434.5" stroke="#b9bec8" stroke-width="0.9" stroke-dasharray="0.7 1.3"/>
<line x1="29.2" y1="438.2" x2="86.4" y2="438.2" stroke="#6a6a6a" stroke-width="1.5" stroke-dasharray="0.75 1.95"/>
<line x1="52.6" y1="440.6" x2="63.4" y2="440.6" stroke="#a2a2a2" stroke-width="0.8" stroke-dasharray="1.1 0.5"/>
<rect x="88" y="399" width="59" height="37" fill="#fff" stroke="#adadad" stroke-width="0.6"/>
<line x1="89.1" y1="400.5" x2="89.1" y2="434.5" stroke="#b9bec8" stroke-width="0.9" stroke-dasharray="0.7 1.3"/>
<line x1="89.2" y1="438.2" x2="146.4" y2="438.2" stroke="#6a6a6a" stroke-width="1.5" stroke-dasharray="0.75 1.95"/>
<line x1="112.6" y1="440.6" x2="123.4" y2="440.6" stroke="#a2a2a2" stroke-width="0.8" stroke-dasharray="1.1 0.5"/>
<rect x="148" y="399" width="59" height="37" fill="#fff" stroke="#adadad" stroke-width="0.6"/>
<line x1="149.1" y1="400.5" x2="149.1" y2="434.5" stroke="#b9bec8" stroke-width="0.9" stroke-dasharray="0.7 1.3"/>
<line x1="149.2" y1="438.2" x2="206.4" y2="438.2" stroke="#6a6a6a" stroke-width="1.5" stroke-dasharray="0.75 1.95"/>
<line x1="172.6" y1="440.6" x2="183.4" y2="440.6" stroke="#a2a2a2" stroke-width="0.8" stroke-dasharray="1.1 0.5"/>
<rect x="208" y="399" width="59.2" height="37" fill="#fff" stroke="#adadad" stroke-width="0.6"/>
<line x1="209.1" y1="400.5" x2="209.1" y2="434.5" stroke="#b9bec8" stroke-width="0.9" stroke-dasharray="0.7 1.3"/>
<line x1="209.2" y1="438.2" x2="266.6" y2="438.2" stroke="#6a6a6a" stroke-width="1.5" stroke-dasharray="0.75 1.95"/>
<line x1="232.6" y1="440.6" x2="243.4" y2="440.6" stroke="#a2a2a2" stroke-width="0.8" stroke-dasharray="1.1 0.5"/>
<rect x="28" y="448" width="59" height="35.6" fill="#fff" stroke="#adadad" stroke-width="0.6"/>
<line x1="29.1" y1="449.5" x2="29.1" y2="482.1" stroke="#b9bec8" stroke-width="0.9" stroke-dasharray="0.7 1.3"/>
<line x1="29.2" y1="485.8" x2="86.4" y2="485.8" stroke="#6a6a6a" stroke-width="1.5" stroke-dasharray="0.75 1.95"/>
<line x1="52.6" y1="488.2" x2="63.4" y2="488.2" stroke="#a2a2a2" stroke-width="0.8" stroke-dasharray="1.1 0.5"/>
<rect x="88" y="448" width="59" height="35.6" fill="#fff" stroke="#adadad" stroke-width="0.6"/>
<line x1="89.1" y1="449.5" x2="89.1" y2="482.1" stroke="#b9bec8" stroke-width="0.9" stroke-dasharray="0.7 1.3"/>
<line x1="89.2" y1="485.8" x2="146.4" y2="485.8" stroke="#6a6a6a" stroke-width="1.5" stroke-dasharray="0.75 1.95"/>
<line x1="112.6" y1="488.2" x2="123.4" y2="488.2" stroke="#a2a2a2" stroke-width="0.8" stroke-dasharray="1.1 0.5"/>
<rect x="148" y="448" width="59" height="35.6" fill="#fff" stroke="#adadad" stroke-width="0.6"/>
<line x1="149.1" y1="449.5" x2="149.1" y2="482.1" stroke="#b9bec8" stroke-width="0.9" stroke-dasharray="0.7 1.3"/>
<line x1="149.2" y1="485.8" x2="206.4" y2="485.8" stroke="#6a6a6a" stroke-width="1.5" stroke-dasharray="0.75 1.95"/>
<line x1="172.6" y1="488.2" x2="183.4" y2="488.2" stroke="#a2a2a2" stroke-width="0.8" stroke-dasharray="1.1 0.5"/>
<rect x="208" y="448" width="59.2" height="35.6" fill="#fff" stroke="#adadad" stroke-width="0.6"/>
<line x1="209.1" y1="449.5" x2="209.1" y2="482.1" stroke="#b9bec8" stroke-width="0.9" stroke-dasharray="0.7 1.3"/>
<line x1="209.2" y1="485.8" x2="266.6" y2="485.8" stroke="#6a6a6a" stroke-width="1.5" stroke-dasharray="0.75 1.95"/>
<line x1="232.6" y1="488.2" x2="243.4" y2="488.2" stroke="#a2a2a2" stroke-width="0.8" stroke-dasharray="1.1 0.5"/>
<rect x="28" y="489.6" width="59" height="36.4" fill="#fff" stroke="#adadad" stroke-width="0.6"/>
<line x1="29.1" y1="491.1" x2="29.1" y2="524.5" stroke="#b9bec8" stroke-width="0.9" stroke-dasharray="0.7 1.3"/>
<line x1="29.2" y1="528.2" x2="86.4" y2="528.2" stroke="#6a6a6a" stroke-width="1.5" stroke-dasharray="0.75 1.95"/>
<line x1="52.6" y1="530.6" x2="63.4" y2="530.6" stroke="#a2a2a2" stroke-width="0.8" stroke-dasharray="1.1 0.5"/>
<rect x="88" y="489.6" width="59" height="36.4" fill="#fff" stroke="#adadad" stroke-width="0.6"/>
<line x1="89.1" y1="491.1" x2="89.1" y2="524.5" stroke="#b9bec8" stroke-width="0.9" stroke-dasharray="0.7 1.3"/>
<line x1="89.2" y1="528.2" x2="146.4" y2="528.2" stroke="#6a6a6a" stroke-width="1.5" stroke-dasharray="0.75 1.95"/>
<line x1="112.6" y1="530.6" x2="123.4" y2="530.6" stroke="#a2a2a2" stroke-width="0.8" stroke-dasharray="1.1 0.5"/>
<rect x="148" y="489.6" width="59" height="36.4" fill="#fff" stroke="#adadad" stroke-width="0.6"/>
<line x1="149.1" y1="491.1" x2="149.1" y2="524.5" stroke="#b9bec8" stroke-width="0.9" stroke-dasharray="0.7 1.3"/>
<line x1="149.2" y1="528.2" x2="206.4" y2="528.2" stroke="#6a6a6a" stroke-width="1.5" stroke-dasharray="0.75 1.95"/>
<line x1="172.6" y1="530.6" x2="183.4" y2="530.6" stroke="#a2a2a2" stroke-width="0.8" stroke-dasharray="1.1 0.5"/>
<rect x="208" y="489.6" width="59.2" height="36.4" fill="#fff" stroke="#adadad" stroke-width="0.6"/>
<line x1="209.1" y1="491.1" x2="209.1" y2="524.5" stroke="#b9bec8" stroke-width="0.9" stroke-dasharray="0.7 1.3"/>
<line x1="209.2" y1="528.2" x2="266.6" y2="528.2" stroke="#6a6a6a" stroke-width="1.5" stroke-dasharray="0.75 1.95"/>
<line x1="232.6" y1="530.6" x2="243.4" y2="530.6" stroke="#a2a2a2" stroke-width="0.8" stroke-dasharray="1.1 0.5"/>
<line x1="53" y1="296.4" x2="80" y2="297" stroke="#8fe67c" stroke-width="0.55"/>
<path d="M28.6 293.29 L29.45 293.56 L30.3 293.97 L31.15 293.49 L32 293.71 L32.85 293.65 L33.7 293.92 L34.55 294.28 L35.4 294.07 L36.25 294.36 L37.1 294.02 L37.95 294.72 L38.8 294.21 L39.65 294.32 L40.5 294.64 L41.35 295 L42.2 294.98 L43.05 295.21 L43.9 295.11 L44.75 294.88 L45.6 294.96 L46.45 295.27 L47.3 294.99 L48.15 295.52 L49 295.64 L49.85 295.59 L50.7 295.48 L51.55 295.31 L52.4 295.53 L53.25 295.63 L54.1 295.76 L54.95 295.93 L55.8 296.03 L56.65 295.7 L57.5 295.86 L58.35 295.29 L59.2 293.6 L60.05 289.18 L60.9 284.45 L61.75 278.14 L62.6 275.53 L63.45 274.23 L64.3 273.43 L65.15 272.45 L66 271.15 L66.85 270.03 L67.7 270.84 L68.55 272.99 L69.4 277.72 L70.25 284.58 L71.1 289.98 L71.95 293.86 L72.8 295.12 L73.65 296.32 L74.5 296.01 L75.35 296.36 L76.2 296.34 L77.05 296.7 L77.9 297 L78.75 296.61 L79.6 297.02 L80.45 297.06 L81.3 296.99 L82.15 296.69 L83 297.17 L83.85 296.92 L84.7 297.16 L85.55 296.96 L86.4 297.28" stroke="#ef4f4d" stroke-width="0.62" fill="none" stroke-linejoin="round"/>
<line x1="66" y1="268.8" x2="68.8" y2="268.8" stroke="#555" stroke-width="0.9"/>
<line x1="113" y1="294.2" x2="138" y2="295.4" stroke="#8fe67c" stroke-width="0.55"/>
<path d="M88.6 292.21 L89.45 292.49 L90.3 292.5 L91.15 292.9 L92 292.42 L92.85 292.61 L93.7 292.61 L94.55 293 L95.4 292.68 L96.25 293.21 L97.1 292.63 L97.95 293.12 L98.8 293.37 L99.65 293.37 L100.5 292.99 L101.35 292.9 L102.2 293.56 L103.05 293.76 L103.9 293.62 L104.75 293.35 L105.6 293.78 L106.45 293.77 L107.3 293.58 L108.15 293.8 L109 293.7 L109.85 293.86 L110.7 293.99 L111.55 293.56 L112.4 294.24 L113.25 294.33 L114.1 294.11 L114.95 294.22 L115.8 293.63 L116.65 293.58 L117.5 293.5 L118.35 292.4 L119.2 289.96 L120.05 285.32 L120.9 280.12 L121.75 273.23 L122.6 270.03 L123.45 269.76 L124.3 270.95 L125.15 269.83 L126 267.83 L126.85 266.08 L127.7 265.15 L128.55 266.71 L129.4 270.95 L130.25 279.79 L131.1 286.64 L131.95 292.1 L132.8 293.6 L133.65 294.4 L134.5 295.1 L135.35 295.04 L136.2 294.78 L137.05 294.83 L137.9 295.2 L138.75 295.08 L139.6 295.6 L140.45 295 L141.3 295.23 L142.15 295.21 L143 295.66 L143.85 295.78 L144.7 295.74 L145.55 295.32 L146.4 295.88" stroke="#ef4f4d" stroke-width="0.62" fill="none" stroke-linejoin="round"/>
<line x1="126.6" y1="263.8" x2="129.4" y2="263.8" stroke="#555" stroke-width="0.9"/>
<line x1="174" y1="295.6" x2="198" y2="296.6" stroke="#8fe67c" stroke-width="0.55"/>
<path d="M148.6 294.06 L149.45 294.46 L150.3 294.37 L151.15 294.05 L152 294.06 L152.85 294.48 L153.7 294.13 L154.55 294.36 L155.4 294.6 L156.25 294.49 L157.1 294.22 L157.95 294.97 L158.8 295.03 L159.65 294.62 L160.5 294.9 L161.35 295.27 L162.2 295.22 L163.05 294.65 L163.9 294.89 L164.75 294.94 L165.6 295.42 L166.45 295.32 L167.3 294.96 L168.15 294.92 L169 295.71 L169.85 295.11 L170.7 295.37 L171.55 295.35 L172.4 295.8 L173.25 295.48 L174.1 295.83 L174.95 295.76 L175.8 295.3 L176.65 295.47 L177.5 294.29 L178.35 292.94 L179.2 290.05 L180.05 283.24 L180.9 276.87 L181.75 270.33 L182.6 268.24 L183.45 272.16 L184.3 276.59 L185.15 281.08 L186 281.54 L186.85 280.5 L187.7 280.82 L188.55 281.79 L189.4 284.34 L190.25 288.17 L191.1 292.35 L191.95 294.3 L192.8 296.01 L193.65 296.32 L194.5 295.94 L195.35 295.88 L196.2 296.24 L197.05 296.6 L197.9 296.05 L198.75 296.15 L199.6 296.72 L200.45 296.12 L201.3 296.78 L202.15 296.27 L203 296.6 L203.85 296.89 L204.7 296.36 L205.55 296.53 L206.4 296.96" stroke="#ef4f4d" stroke-width="0.62" fill="none" stroke-linejoin="round"/>
<line x1="181.4" y1="266.8" x2="184.2" y2="266.8" stroke="#555" stroke-width="0.9"/>
<line x1="233" y1="294.5" x2="258" y2="295.8" stroke="#8fe67c" stroke-width="0.55"/>
<path d="M208.6 292.82 L209.45 292.68 L210.3 292.99 L211.15 292.44 L212 292.63 L212.85 293 L213.7 293.27 L214.55 292.81 L215.4 292.73 L216.25 293 L217.1 293.02 L217.95 293.13 L218.8 293.47 L219.65 293.69 L220.5 293.47 L221.35 293.31 L222.2 293.72 L223.05 293.71 L223.9 293.77 L224.75 294.12 L225.6 294.15 L226.45 293.79 L227.3 294.12 L228.15 294.22 L229 294.51 L229.85 294.5 L230.7 294.6 L231.55 294.41 L232.4 294.44 L233.25 294.17 L234.1 294.39 L234.95 294.48 L235.8 294.11 L236.65 293.24 L237.5 292.6 L238.35 290.14 L239.2 286.37 L240.05 281.65 L240.9 275.73 L241.75 270.76 L242.6 267.5 L243.45 267.63 L244.3 269.87 L245.15 271.81 L246 271.16 L246.85 271.09 L247.7 271.67 L248.55 273.96 L249.4 278.24 L250.25 285.35 L251.1 290.7 L251.95 292.84 L252.8 295.26 L253.65 295.47 L254.5 295.48 L255.35 295.14 L256.2 295.62 L257.05 295.89 L257.9 295.75 L258.75 295.62 L259.6 295.82 L260.45 296.12 L261.3 295.55 L262.15 295.52 L263 296.28 L263.85 295.78 L264.7 295.92 L265.55 295.8 L266.4 296.07" stroke="#ef4f4d" stroke-width="0.62" fill="none" stroke-linejoin="round"/>
<line x1="242" y1="265.8" x2="244.8" y2="265.8" stroke="#555" stroke-width="0.9"/>
<line x1="53" y1="338.2" x2="80" y2="338.8" stroke="#8fe67c" stroke-width="0.55"/>
<path d="M28.6 336.35 L29.45 336.2 L30.3 336.04 L31.15 336.04 L32 336.3 L32.85 336.14 L33.7 336.66 L34.55 336.54 L35.4 336.7 L36.25 336.62 L37.1 336.71 L37.95 336.55 L38.8 336.87 L39.65 337.04 L40.5 336.77 L41.35 337.11 L42.2 337.01 L43.05 337.35 L43.9 337.14 L44.75 337.56 L45.6 337.33 L46.45 337.4 L47.3 337.35 L48.15 337.88 L49 337.55 L49.85 337.64 L50.7 337.28 L51.55 337.89 L52.4 337.73 L53.25 337.82 L54.1 337.76 L54.95 338.29 L55.8 338.13 L56.65 337.89 L57.5 337.45 L58.35 337.13 L59.2 335.73 L60.05 332.89 L60.9 329.48 L61.75 325.06 L62.6 321.6 L63.45 319.86 L64.3 317.42 L65.15 315.02 L66 311.67 L66.85 309.21 L67.7 309.93 L68.55 312.82 L69.4 317.59 L70.25 324.45 L71.1 329.54 L71.95 334.79 L72.8 336.35 L73.65 337.64 L74.5 338.36 L75.35 338.36 L76.2 338.58 L77.05 338.61 L77.9 338.76 L78.75 338.57 L79.6 338.6 L80.45 338.98 L81.3 338.94 L82.15 338.5 L83 339.13 L83.85 338.85 L84.7 338.83 L85.55 339.29 L86.4 339.02" stroke="#ef4f4d" stroke-width="0.62" fill="none" stroke-linejoin="round"/>
<line x1="66" y1="307.8" x2="68.8" y2="307.8" stroke="#555" stroke-width="0.9"/>
<line x1="113" y1="338.6" x2="140" y2="339.4" stroke="#8fe67c" stroke-width="0.55"/>
<path d="M88.6 336.89 L89.45 337.11 L90.3 337.36 L91.15 337.42 L92 337.54 L92.85 337.05 L93.7 337.16 L94.55 337.39 L95.4 337.63 L96.25 337.25 L97.1 337.29 L97.95 337.62 L98.8 337.46 L99.65 337.89 L100.5 337.54 L101.35 337.61 L102.2 338.19 L103.05 338.19 L103.9 337.96 L104.75 337.94 L105.6 338.12 L106.45 338.07 L107.3 338.47 L108.15 337.84 L109 338.54 L109.85 338.29 L110.7 338.4 L111.55 338.1 L112.4 338.38 L113.25 338.54 L114.1 338.48 L114.95 338.72 L115.8 338.71 L116.65 338.41 L117.5 337.69 L118.35 337.29 L119.2 335.1 L120.05 331.1 L120.9 326.45 L121.75 319.85 L122.6 315.82 L123.45 315.38 L124.3 316.29 L125.15 316.85 L126 315.17 L126.85 314.19 L127.7 314.9 L128.55 316.69 L129.4 321.55 L130.25 327.72 L131.1 331.92 L131.95 335.55 L132.8 337.37 L133.65 338.82 L134.5 339.37 L135.35 339.33 L136.2 338.91 L137.05 339.21 L137.9 338.9 L138.75 339.28 L139.6 339 L140.45 339.08 L141.3 339.04 L142.15 339.48 L143 339.76 L143.85 339.45 L144.7 339.32 L145.55 339.48 L146.4 339.88" stroke="#ef4f4d" stroke-width="0.62" fill="none" stroke-linejoin="round"/>
<line x1="126" y1="312.8" x2="128.8" y2="312.8" stroke="#555" stroke-width="0.9"/>
<line x1="173" y1="338" x2="198" y2="339" stroke="#8fe67c" stroke-width="0.55"/>
<path d="M148.6 335.61 L149.45 336.01 L150.3 336.04 L151.15 336.23 L152 335.94 L152.85 336.5 L153.7 336.51 L154.55 336.06 L155.4 336.56 L156.25 336.58 L157.1 336.84 L157.95 336.9 L158.8 336.89 L159.65 337.06 L160.5 336.6 L161.35 336.78 L162.2 336.89 L163.05 337.29 L163.9 336.86 L164.75 336.94 L165.6 336.94 L166.45 337.18 L167.3 337.62 L168.15 337.2 L169 337.19 L169.85 337.75 L170.7 337.4 L171.55 337.81 L172.4 337.74 L173.25 337.88 L174.1 337.71 L174.95 338.16 L175.8 338.28 L176.65 338.23 L177.5 337.64 L178.35 336.73 L179.2 334.83 L180.05 330.93 L180.9 326.02 L181.75 320.04 L182.6 315.2 L183.45 311.24 L184.3 308.89 L185.15 309.88 L186 311.62 L186.85 311.87 L187.7 311.96 L188.55 312.88 L189.4 316.09 L190.25 322.29 L191.1 328.46 L191.95 333.7 L192.8 336.43 L193.65 338.14 L194.5 338.75 L195.35 338.52 L196.2 338.69 L197.05 338.49 L197.9 339.11 L198.75 338.52 L199.6 338.85 L200.45 338.94 L201.3 339.18 L202.15 338.58 L203 339.05 L203.85 339.14 L204.7 339.29 L205.55 338.78 L206.4 339.37" stroke="#ef4f4d" stroke-width="0.62" fill="none" stroke-linejoin="round"/>
<line x1="183.4" y1="307.8" x2="186.2" y2="307.8" stroke="#555" stroke-width="0.9"/>
<line x1="233" y1="337.8" x2="258" y2="338.8" stroke="#8fe67c" stroke-width="0.55"/>
<path d="M208.6 334.66 L209.45 334.65 L210.3 334.43 L211.15 334.76 L212 335.17 L212.85 335.08 L213.7 334.93 L214.55 335.57 L215.4 335.77 L216.25 335.9 L217.1 335.39 L217.95 336.11 L218.8 335.64 L219.65 335.58 L220.5 336.42 L221.35 336.5 L222.2 336.11 L223.05 336.12 L223.9 336.41 L224.75 336.6 L225.6 336.54 L226.45 336.74 L227.3 337.16 L228.15 337.04 L229 337.35 L229.85 337.58 L230.7 337.15 L231.55 337.07 L232.4 337.72 L233.25 337.3 L234.1 337.78 L234.95 337.86 L235.8 336.9 L236.65 336.77 L237.5 336.51 L238.35 334.55 L239.2 331.29 L240.05 326.76 L240.9 320.5 L241.75 315.13 L242.6 311.17 L243.45 309.12 L244.3 309.02 L245.15 309.52 L246 309.28 L246.85 308.29 L247.7 307.75 L248.55 308.54 L249.4 312.21 L250.25 317.26 L251.1 324.87 L251.95 330.64 L252.8 335.68 L253.65 336.8 L254.5 338.32 L255.35 338.27 L256.2 338.67 L257.05 338.29 L257.9 338.26 L258.75 338.77 L259.6 338.74 L260.45 339.02 L261.3 339.17 L262.15 338.65 L263 339.06 L263.85 338.74 L264.7 339.12 L265.55 338.96 L266.4 339.28" stroke="#ef4f4d" stroke-width="0.62" fill="none" stroke-linejoin="round"/>
<line x1="247" y1="306.4" x2="249.8" y2="306.4" stroke="#555" stroke-width="0.9"/>
<line x1="54" y1="391.5" x2="80" y2="391.5" stroke="#8fe67c" stroke-width="0.55"/>
<path d="M28.6 390.88 L29.45 390.62 L30.3 390.88 L31.15 390.79 L32 390.65 L32.85 390.85 L33.7 390.64 L34.55 390.55 L35.4 390.96 L36.25 390.71 L37.1 390.76 L37.95 391.04 L38.8 390.7 L39.65 390.59 L40.5 391.11 L41.35 391 L42.2 390.67 L43.05 390.97 L43.9 390.85 L44.75 391.07 L45.6 390.87 L46.45 391.16 L47.3 391.18 L48.15 390.83 L49 391.24 L49.85 391.01 L50.7 390.94 L51.55 391.32 L52.4 391.03 L53.25 391.39 L54.1 391.28 L54.95 391.1 L55.8 391.26 L56.65 390.65 L57.5 390.53 L58.35 390.41 L59.2 390.09 L60.05 389.58 L60.9 389.44 L61.75 388.45 L62.6 388.12 L63.45 387.5 L64.3 386.32 L65.15 384.68 L66 379.39 L66.85 372.25 L67.7 367.13 L68.55 359.51 L69.4 361.11 L70.25 370.39 L71.1 381.33 L71.95 388 L72.8 390.71 L73.65 390.91 L74.5 390.86 L75.35 391.28 L76.2 391.08 L77.05 391.32 L77.9 391.3 L78.75 391.11 L79.6 391.35 L80.45 391 L81.3 391.38 L82.15 391.27 L83 391.01 L83.85 391.21 L84.7 391.33 L85.55 391.11 L86.4 391.29" stroke="#ef4f4d" stroke-width="0.62" fill="none" stroke-linejoin="round"/>
<line x1="68" y1="356.8" x2="70.8" y2="356.8" stroke="#555" stroke-width="0.9"/>
<line x1="115" y1="391.7" x2="141" y2="391.7" stroke="#8fe67c" stroke-width="0.55"/>
<path d="M88.6 390.83 L89.45 391.13 L90.3 390.68 L91.15 391.18 L92 391 L92.85 391.01 L93.7 391.08 L94.55 390.77 L95.4 391.01 L96.25 390.84 L97.1 390.81 L97.95 391.21 L98.8 391.26 L99.65 391.25 L100.5 390.99 L101.35 390.83 L102.2 391.16 L103.05 390.98 L103.9 391.08 L104.75 390.91 L105.6 391.01 L106.45 390.91 L107.3 391.42 L108.15 391.34 L109 391.12 L109.85 391.12 L110.7 391.49 L111.55 391.26 L112.4 391.21 L113.25 391.2 L114.1 391.27 L114.95 391.36 L115.8 391.47 L116.65 391.03 L117.5 390.85 L118.35 390.82 L119.2 390.86 L120.05 390.3 L120.9 389.91 L121.75 389.84 L122.6 389.18 L123.45 388.56 L124.3 387.88 L125.15 386.44 L126 385.09 L126.85 381.13 L127.7 373.51 L128.55 367.79 L129.4 360.18 L130.25 359.19 L131.1 368.42 L131.95 379.5 L132.8 387.52 L133.65 390.62 L134.5 391.11 L135.35 390.94 L136.2 391.09 L137.05 391.5 L137.9 391.2 L138.75 391.16 L139.6 391.46 L140.45 391.46 L141.3 391.13 L142.15 391.35 L143 391.12 L143.85 391.53 L144.7 391.4 L145.55 391.32 L146.4 391.36" stroke="#ef4f4d" stroke-width="0.62" fill="none" stroke-linejoin="round"/>
<line x1="129" y1="356.5" x2="131.8" y2="356.5" stroke="#555" stroke-width="0.9"/>
<line x1="175" y1="391.5" x2="201" y2="391.5" stroke="#8fe67c" stroke-width="0.55"/>
<path d="M148.6 390.71 L149.45 390.68 L150.3 390.58 L151.15 390.49 L152 390.95 L152.85 390.81 L153.7 390.68 L154.55 390.72 L155.4 390.63 L156.25 390.96 L157.1 391.04 L157.95 390.64 L158.8 390.69 L159.65 390.57 L160.5 390.65 L161.35 390.77 L162.2 391.09 L163.05 390.62 L163.9 390.8 L164.75 390.91 L165.6 390.98 L166.45 391.2 L167.3 390.83 L168.15 390.99 L169 391.22 L169.85 390.99 L170.7 390.9 L171.55 391.07 L172.4 391.23 L173.25 391.07 L174.1 391.13 L174.95 390.97 L175.8 391.12 L176.65 390.79 L177.5 390.22 L178.35 390.12 L179.2 389.81 L180.05 389.51 L180.9 388.73 L181.75 388.59 L182.6 387.4 L183.45 385.76 L184.3 384.43 L185.15 383.89 L186 383.14 L186.85 381.53 L187.7 373.42 L188.55 367.89 L189.4 360.01 L190.25 359.04 L191.1 368.28 L191.95 379.33 L192.8 387.55 L193.65 390.46 L194.5 390.8 L195.35 391.08 L196.2 391.25 L197.05 390.93 L197.9 391.11 L198.75 391.15 L199.6 391.32 L200.45 391.07 L201.3 391.22 L202.15 390.95 L203 391.11 L203.85 391.25 L204.7 391.45 L205.55 391.15 L206.4 391.07" stroke="#ef4f4d" stroke-width="0.62" fill="none" stroke-linejoin="round"/>
<line x1="189" y1="356.5" x2="191.8" y2="356.5" stroke="#555" stroke-width="0.9"/>
<line x1="234.6" y1="391.5" x2="260.6" y2="391.5" stroke="#8fe67c" stroke-width="0.55"/>
<path d="M208.6 390.94 L209.45 390.74 L210.3 390.71 L211.15 390.6 L212 390.78 L212.85 390.77 L213.7 390.98 L214.55 390.86 L215.4 390.5 L216.25 390.72 L217.1 390.86 L217.95 390.79 L218.8 390.94 L219.65 390.92 L220.5 390.7 L221.35 391.09 L222.2 391.11 L223.05 391.03 L223.9 390.97 L224.75 391 L225.6 390.74 L226.45 390.81 L227.3 391.08 L228.15 391.12 L229 391.18 L229.85 391.31 L230.7 391.34 L231.55 391.13 L232.4 391.14 L233.25 391.17 L234.1 391.37 L234.95 391.27 L235.8 390.95 L236.65 390.55 L237.5 390.1 L238.35 390.26 L239.2 390.02 L240.05 390.03 L240.9 390.03 L241.75 388.77 L242.6 386.76 L243.45 385.53 L244.3 385 L245.15 384.26 L246 382.3 L246.85 377.21 L247.7 371.34 L248.55 364.43 L249.4 357.98 L250.25 363.18 L251.1 373.03 L251.95 384.27 L252.8 388.88 L253.65 390.63 L254.5 391.12 L255.35 391.23 L256.2 391.14 L257.05 391.33 L257.9 391.27 L258.75 391.13 L259.6 391.2 L260.45 391.19 L261.3 391.4 L262.15 391.11 L263 391.12 L263.85 391.42 L264.7 391.24 L265.55 390.97 L266.4 390.95" stroke="#ef4f4d" stroke-width="0.62" fill="none" stroke-linejoin="round"/>
<line x1="248.6" y1="356.5" x2="251.4" y2="356.5" stroke="#555" stroke-width="0.9"/>
<line x1="54.4" y1="434.9" x2="80.4" y2="434.9" stroke="#8fe67c" stroke-width="0.55"/>
<path d="M28.6 434.25 L29.45 434.21 L30.3 434.36 L31.15 433.87 L32 434.38 L32.85 434.03 L33.7 434.39 L34.55 434.31 L35.4 434.29 L36.25 434.18 L37.1 434.37 L37.95 434.11 L38.8 434.08 L39.65 434.39 L40.5 434.1 L41.35 434.33 L42.2 434.16 L43.05 434.54 L43.9 434.31 L44.75 434.26 L45.6 434.5 L46.45 434.28 L47.3 434.37 L48.15 434.53 L49 434.71 L49.85 434.55 L50.7 434.65 L51.55 434.48 L52.4 434.63 L53.25 434.48 L54.1 434.81 L54.95 434.78 L55.8 434.32 L56.65 434.17 L57.5 434.34 L58.35 433.79 L59.2 433.92 L60.05 433.45 L60.9 432.82 L61.75 432.58 L62.6 431.61 L63.45 430.96 L64.3 430.1 L65.15 428.79 L66 426.54 L66.85 418.46 L67.7 412.31 L68.55 405.2 L69.4 400.56 L70.25 408.32 L71.1 419.1 L71.95 429.56 L72.8 433.33 L73.65 434.04 L74.5 434.56 L75.35 434.29 L76.2 434.53 L77.05 434.68 L77.9 434.26 L78.75 434.66 L79.6 434.51 L80.45 434.39 L81.3 434.44 L82.15 434.84 L83 434.59 L83.85 434.51 L84.7 434.79 L85.55 434.59 L86.4 434.51" stroke="#ef4f4d" stroke-width="0.62" fill="none" stroke-linejoin="round"/>
<line x1="68.4" y1="399.3" x2="71.2" y2="399.3" stroke="#555" stroke-width="0.9"/>
<line x1="115" y1="434.9" x2="141" y2="434.9" stroke="#8fe67c" stroke-width="0.55"/>
<path d="M88.6 433.94 L89.45 433.91 L90.3 434.27 L91.15 434.21 L92 434.37 L92.85 434.23 L93.7 433.96 L94.55 434.25 L95.4 434.14 L96.25 434.15 L97.1 434.27 L97.95 434.03 L98.8 434.09 L99.65 434.18 L100.5 434.06 L101.35 434.35 L102.2 434.03 L103.05 434.53 L103.9 434.06 L104.75 434.43 L105.6 434.49 L106.45 434.28 L107.3 434.35 L108.15 434.53 L109 434.31 L109.85 434.44 L110.7 434.3 L111.55 434.36 L112.4 434.54 L113.25 434.56 L114.1 434.41 L114.95 434.5 L115.8 434.33 L116.65 434.63 L117.5 434.25 L118.35 434.3 L119.2 434.05 L120.05 433.35 L120.9 433.24 L121.75 432.99 L122.6 432.49 L123.45 431.62 L124.3 430.99 L125.15 429.97 L126 428.18 L126.85 424.2 L127.7 416.52 L128.55 410.68 L129.4 402.86 L130.25 401.9 L131.1 411.28 L131.95 422.45 L132.8 430.7 L133.65 433.91 L134.5 434.26 L135.35 434.22 L136.2 434.56 L137.05 434.31 L137.9 434.34 L138.75 434.28 L139.6 434.5 L140.45 434.52 L141.3 434.77 L142.15 434.82 L143 434.6 L143.85 434.48 L144.7 434.5 L145.55 434.47 L146.4 434.58" stroke="#ef4f4d" stroke-width="0.62" fill="none" stroke-linejoin="round"/>
<line x1="129" y1="399.3" x2="131.8" y2="399.3" stroke="#555" stroke-width="0.9"/>
<line x1="175.4" y1="434.9" x2="201.4" y2="434.9" stroke="#8fe67c" stroke-width="0.55"/>
<path d="M148.6 434.13 L149.45 434.29 L150.3 434.12 L151.15 433.85 L152 434.09 L152.85 434.02 L153.7 434.25 L154.55 434.23 L155.4 434 L156.25 434.12 L157.1 434.4 L157.95 434.42 L158.8 434.24 L159.65 434.21 L160.5 434.28 L161.35 434.1 L162.2 434.36 L163.05 434.48 L163.9 434.35 L164.75 434.38 L165.6 434.52 L166.45 434.2 L167.3 434.22 L168.15 434.53 L169 434.53 L169.85 434.29 L170.7 434.28 L171.55 434.44 L172.4 434.44 L173.25 434.69 L174.1 434.74 L174.95 434.81 L175.8 434.78 L176.65 434.29 L177.5 433.86 L178.35 433.29 L179.2 433.24 L180.05 432.73 L180.9 432.62 L181.75 431.79 L182.6 430.73 L183.45 428.93 L184.3 427.77 L185.15 427.46 L186 426.75 L186.85 424.66 L187.7 420.13 L188.55 413.95 L189.4 406.58 L190.25 400.78 L191.1 406.68 L191.95 417.25 L192.8 428.14 L193.65 432.49 L194.5 434.38 L195.35 434.49 L196.2 434.6 L197.05 434.44 L197.9 434.52 L198.75 434.35 L199.6 434.51 L200.45 434.32 L201.3 434.66 L202.15 434.61 L203 434.64 L203.85 434.55 L204.7 434.47 L205.55 434.44 L206.4 434.53" stroke="#ef4f4d" stroke-width="0.62" fill="none" stroke-linejoin="round"/>
<line x1="189.4" y1="399.3" x2="192.2" y2="399.3" stroke="#555" stroke-width="0.9"/>
<line x1="236" y1="434.9" x2="262" y2="434.9" stroke="#8fe67c" stroke-width="0.55"/>
<path d="M208.6 434.36 L209.45 433.94 L210.3 433.93 L211.15 434.26 L212 433.93 L212.85 434.17 L213.7 434.13 L214.55 434.04 L215.4 434.25 L216.25 433.91 L217.1 433.97 L217.95 434.16 L218.8 434.44 L219.65 434.05 L220.5 434.15 L221.35 434.43 L222.2 434.13 L223.05 434.33 L223.9 434.38 L224.75 434.28 L225.6 434.09 L226.45 434.36 L227.3 434.18 L228.15 434.4 L229 434.66 L229.85 434.46 L230.7 434.6 L231.55 434.59 L232.4 434.3 L233.25 434.8 L234.1 434.64 L234.95 434.4 L235.8 434.59 L236.65 434.49 L237.5 434.19 L238.35 433.59 L239.2 433.56 L240.05 433.19 L240.9 433.26 L241.75 432.85 L242.6 432.53 L243.45 430.89 L244.3 429.63 L245.15 428.76 L246 427.97 L246.85 426.93 L247.7 423.98 L248.55 418.51 L249.4 412.08 L250.25 404.24 L251.1 400.78 L251.95 409.62 L252.8 420.4 L253.65 429.96 L254.5 433.43 L255.35 433.93 L256.2 434.08 L257.05 434.63 L257.9 434.44 L258.75 434.46 L259.6 434.41 L260.45 434.39 L261.3 434.38 L262.15 434.53 L263 434.74 L263.85 434.33 L264.7 434.48 L265.55 434.76 L266.4 434.59" stroke="#ef4f4d" stroke-width="0.62" fill="none" stroke-linejoin="round"/>
<line x1="250" y1="399.3" x2="252.8" y2="399.3" stroke="#555" stroke-width="0.9"/>
<line x1="52" y1="481.98" x2="71" y2="481.98" stroke="#8fe67c" stroke-width="0.55"/>
<path d="M28.6 480.66 L29.45 481.9 L30.3 478.96 L31.15 480.19 L32 479.56 L32.85 479.33 L33.7 479.71 L34.55 480.36 L35.4 480.57 L36.25 481.14 L37.1 480.65 L37.95 481.73 L38.8 479.77 L39.65 482.51 L40.5 479.03 L41.35 481.65 L42.2 480.61 L43.05 481.18 L43.9 479.46 L44.75 479.69 L45.6 482.14 L46.45 482.81 L47.3 480.12 L48.15 481.66 L49 482.39 L49.85 482.45 L50.7 479.13 L51.55 478.93 L52.4 479.44 L53.25 482.31 L54.1 478.99 L54.95 480.02 L55.8 481.77 L56.65 478.03 L57.5 473.22 L58.35 465.95 L59.2 459.5 L60.05 454.05 L60.9 449.76 L61.75 453 L62.6 458.43 L63.45 465.63 L64.3 470.36 L65.15 477.96 L66 478.16 L66.85 480.05 L67.7 482.25 L68.55 479.91 L69.4 479.91 L70.25 479.27 L71.1 478.82 L71.95 481.51 L72.8 479.6 L73.65 479.82 L74.5 480.74 L75.35 478.95 L76.2 481.07 L77.05 479.32 L77.9 481.12 L78.75 481.56 L79.6 479.12 L80.45 480.38 L81.3 481.51 L82.15 480.36 L83 478.86 L83.85 480.82 L84.7 481.33 L85.55 480.7 L86.4 482.43" stroke="#ef4f4d" stroke-width="0.62" fill="none" stroke-linejoin="round"/>
<line x1="60" y1="449.4" x2="62.8" y2="449.4" stroke="#555" stroke-width="0.9"/>
<line x1="113.2" y1="478" x2="131" y2="478" stroke="#8fe67c" stroke-width="0.55"/>
<path d="M88.6 477.17 L89.45 474.41 L90.3 477.93 L91.15 477.16 L92 477.05 L92.85 476.44 L93.7 475.59 L94.55 478.36 L95.4 476.21 L96.25 475.97 L97.1 478.34 L97.95 477.71 L98.8 475.04 L99.65 477.56 L100.5 475.33 L101.35 479.35 L102.2 479.78 L103.05 477.34 L103.9 479.68 L104.75 474.49 L105.6 477.32 L106.45 474.32 L107.3 476.72 L108.15 474.46 L109 474.62 L109.85 477.73 L110.7 475.19 L111.55 474.34 L112.4 475.05 L113.25 475.86 L114.1 476.59 L114.95 474.71 L115.8 477.44 L116.65 476.02 L117.5 475.29 L118.35 470.33 L119.2 466.89 L120.05 459.37 L120.9 452.96 L121.75 452.54 L122.6 456.99 L123.45 461.42 L124.3 469.39 L125.15 471.84 L126 476.25 L126.85 475.8 L127.7 476.19 L128.55 478.64 L129.4 477.04 L130.25 479.85 L131.1 477.1 L131.95 473.99 L132.8 475.9 L133.65 479.15 L134.5 476.16 L135.35 473.6 L136.2 475.07 L137.05 473.84 L137.9 480.05 L138.75 479.87 L139.6 478.7 L140.45 477.33 L141.3 478.39 L142.15 474.34 L143 475.13 L143.85 476.63 L144.7 475.44 L145.55 473.28 L146.4 479.51" stroke="#ef4f4d" stroke-width="0.62" fill="none" stroke-linejoin="round"/>
<line x1="120.6" y1="450.6" x2="123.4" y2="450.6" stroke="#555" stroke-width="0.9"/>
<line x1="172.9" y1="481.29" x2="191.3" y2="481.29" stroke="#8fe67c" stroke-width="0.55"/>
<path d="M148.6 480.44 L149.45 481.2 L150.3 479.2 L151.15 480.25 L152 482.08 L152.85 482.1 L153.7 478.4 L154.55 478.79 L155.4 478.04 L156.25 479.91 L157.1 477.94 L157.95 479.98 L158.8 480.9 L159.65 479.12 L160.5 481.03 L161.35 480.62 L162.2 477.89 L163.05 480.45 L163.9 479.01 L164.75 479.76 L165.6 479.12 L166.45 481.08 L167.3 479.86 L168.15 478.49 L169 480.35 L169.85 481.47 L170.7 479.19 L171.55 478.78 L172.4 479.57 L173.25 482.19 L174.1 482.36 L174.95 480.79 L175.8 481.61 L176.65 480.9 L177.5 476.81 L178.35 470.35 L179.2 466.46 L180.05 458.7 L180.9 453.24 L181.75 451.12 L182.6 454.73 L183.45 461.07 L184.3 467.2 L185.15 473.23 L186 478.33 L186.85 481.15 L187.7 480.21 L188.55 478.98 L189.4 479.02 L190.25 479.87 L191.1 478.67 L191.95 478.65 L192.8 480.15 L193.65 478.1 L194.5 480.01 L195.35 479.42 L196.2 481.08 L197.05 481.26 L197.9 480.99 L198.75 480.98 L199.6 479.46 L200.45 480.87 L201.3 479.29 L202.15 480.4 L203 479.21 L203.85 479.77 L204.7 477.92 L205.55 478.78 L206.4 482.27" stroke="#ef4f4d" stroke-width="0.62" fill="none" stroke-linejoin="round"/>
<line x1="180.6" y1="450.4" x2="183.4" y2="450.4" stroke="#555" stroke-width="0.9"/>
<line x1="232.5" y1="477.26" x2="250.5" y2="477.26" stroke="#8fe67c" stroke-width="0.55"/>
<path d="M208.6 481.54 L209.45 478.71 L210.3 481.55 L211.15 479.8 L212 479.66 L212.85 476.4 L213.7 481.47 L214.55 474.91 L215.4 476.52 L216.25 477.69 L217.1 479.95 L217.95 475.98 L218.8 480.38 L219.65 481.12 L220.5 475.53 L221.35 478.36 L222.2 474.32 L223.05 476.77 L223.9 474.37 L224.75 480.4 L225.6 476.8 L226.45 480.14 L227.3 478.93 L228.15 479.35 L229 474.57 L229.85 473.79 L230.7 477.19 L231.55 474.15 L232.4 477.81 L233.25 475.49 L234.1 476.14 L234.95 478.7 L235.8 475.59 L236.65 472.24 L237.5 469.34 L238.35 466.49 L239.2 460.76 L240.05 455.77 L240.9 451.76 L241.75 454.83 L242.6 458.79 L243.45 465.72 L244.3 471.9 L245.15 472.25 L246 474.53 L246.85 475.77 L247.7 477.24 L248.55 474.4 L249.4 476.43 L250.25 476.9 L251.1 478.71 L251.95 475.13 L252.8 476.96 L253.65 473.95 L254.5 475.98 L255.35 473.83 L256.2 478.74 L257.05 475.42 L257.9 478.04 L258.75 475.19 L259.6 478.39 L260.45 474.93 L261.3 474.33 L262.15 475.82 L263 477.51 L263.85 477.46 L264.7 475.49 L265.55 471.86 L266.4 475.08" stroke="#ef4f4d" stroke-width="0.62" fill="none" stroke-linejoin="round"/>
<line x1="240" y1="450.8" x2="242.8" y2="450.8" stroke="#555" stroke-width="0.9"/>
<line x1="55.7" y1="521.34" x2="74.1" y2="521.34" stroke="#8fe67c" stroke-width="0.55"/>
<path d="M28.6 518.53 L29.45 520.56 L30.3 518.48 L31.15 520.71 L32 519.36 L32.85 519.75 L33.7 520.23 L34.55 519.46 L35.4 518.77 L36.25 518.43 L37.1 518.08 L37.95 519.54 L38.8 517.44 L39.65 515.31 L40.5 516.47 L41.35 514.66 L42.2 516.02 L43.05 517.15 L43.9 519.63 L44.75 520.33 L45.6 520.45 L46.45 519.41 L47.3 519.47 L48.15 519.37 L49 519.6 L49.85 519.03 L50.7 519.1 L51.55 521.59 L52.4 521.58 L53.25 519.17 L54.1 518.66 L54.95 519.22 L55.8 520.76 L56.65 521.01 L57.5 518.58 L58.35 520.08 L59.2 517.89 L60.05 518.49 L60.9 514.29 L61.75 509.04 L62.6 500.59 L63.45 495.55 L64.3 492.57 L65.15 494.76 L66 498.44 L66.85 506.47 L67.7 513.78 L68.55 517.37 L69.4 520.31 L70.25 519.88 L71.1 520.84 L71.95 520.08 L72.8 518.72 L73.65 518.95 L74.5 519.08 L75.35 519.56 L76.2 521.83 L77.05 520.82 L77.9 521.43 L78.75 520.68 L79.6 520.92 L80.45 521.5 L81.3 521.87 L82.15 521.85 L83 521.59 L83.85 519.32 L84.7 520.16 L85.55 519.15 L86.4 520.74" stroke="#ef4f4d" stroke-width="0.62" fill="none" stroke-linejoin="round"/>
<line x1="63.4" y1="490.8" x2="66.2" y2="490.8" stroke="#555" stroke-width="0.9"/>
<line x1="113.2" y1="516.77" x2="131" y2="516.77" stroke="#8fe67c" stroke-width="0.55"/>
<path d="M88.6 519.71 L89.45 515.27 L90.3 519.14 L91.15 512.96 L92 513.47 L92.85 517.33 L93.7 516.8 L94.55 515.91 L95.4 515.23 L96.25 517.49 L97.1 516.01 L97.95 518.34 L98.8 516.6 L99.65 517.05 L100.5 517.55 L101.35 520.25 L102.2 518.87 L103.05 515.61 L103.9 519.24 L104.75 518.79 L105.6 512.65 L106.45 517.86 L107.3 518.48 L108.15 517.9 L109 517.63 L109.85 516.24 L110.7 512.89 L111.55 519.42 L112.4 514.96 L113.25 513.42 L114.1 517.3 L114.95 519.39 L115.8 513.32 L116.65 516.25 L117.5 514.89 L118.35 512.36 L119.2 509.26 L120.05 501.61 L120.9 497.34 L121.75 495.8 L122.6 500.64 L123.45 505.08 L124.3 507.5 L125.15 515.82 L126 514.18 L126.85 514.06 L127.7 517.04 L128.55 512.24 L129.4 514.77 L130.25 517.72 L131.1 517.67 L131.95 513.86 L132.8 513.11 L133.65 515.33 L134.5 514.24 L135.35 517.4 L136.2 513.06 L137.05 514.17 L137.9 518.21 L138.75 516.36 L139.6 518.47 L140.45 519.15 L141.3 518 L142.15 512.74 L143 516.15 L143.85 514.95 L144.7 514.3 L145.55 516.89 L146.4 517.46" stroke="#ef4f4d" stroke-width="0.62" fill="none" stroke-linejoin="round"/>
<line x1="120.6" y1="494.8" x2="123.4" y2="494.8" stroke="#555" stroke-width="0.9"/>
<line x1="173.2" y1="524.49" x2="191" y2="524.49" stroke="#8fe67c" stroke-width="0.55"/>
<path d="M148.6 522.18 L149.45 524.21 L150.3 523.22 L151.15 524.04 L152 524.78 L152.85 523.51 L153.7 523.4 L154.55 522.16 L155.4 522.73 L156.25 523.39 L157.1 523.91 L157.95 524.27 L158.8 523.05 L159.65 522.14 L160.5 522.77 L161.35 524.56 L162.2 522.55 L163.05 523.24 L163.9 524.61 L164.75 522 L165.6 523.65 L166.45 524.65 L167.3 522.57 L168.15 523.48 L169 524.51 L169.85 522.27 L170.7 523.39 L171.55 524.04 L172.4 523.79 L173.25 523.2 L174.1 522.44 L174.95 523.19 L175.8 522.63 L176.65 522.56 L177.5 521.3 L178.35 517.61 L179.2 510.81 L180.05 502.17 L180.9 496.85 L181.75 494.44 L182.6 498.2 L183.45 505.1 L184.3 512.82 L185.15 518.53 L186 522.17 L186.85 523.41 L187.7 522.85 L188.55 524.43 L189.4 522.37 L190.25 523.98 L191.1 523.06 L191.95 523.07 L192.8 523.67 L193.65 523.35 L194.5 523.04 L195.35 521.85 L196.2 522.11 L197.05 523.88 L197.9 523.35 L198.75 523.84 L199.6 524.58 L200.45 523.79 L201.3 521.97 L202.15 522.7 L203 523.51 L203.85 522.47 L204.7 524.57 L205.55 524.5 L206.4 524.21" stroke="#ef4f4d" stroke-width="0.62" fill="none" stroke-linejoin="round"/>
<line x1="180.6" y1="493.4" x2="183.4" y2="493.4" stroke="#555" stroke-width="0.9"/>
<line x1="232.3" y1="522.82" x2="250.7" y2="522.82" stroke="#8fe67c" stroke-width="0.55"/>
<path d="M208.6 524.73 L209.45 525.32 L210.3 524.7 L211.15 522.58 L212 520.72 L212.85 519.33 L213.7 521.94 L214.55 521.75 L215.4 522.49 L216.25 522.2 L217.1 522.67 L217.95 522.58 L218.8 523.91 L219.65 523.59 L220.5 522.99 L221.35 521.76 L222.2 520.87 L223.05 525.12 L223.9 521.09 L224.75 520.34 L225.6 519.35 L226.45 525.04 L227.3 519.66 L228.15 520.83 L229 519.22 L229.85 520.13 L230.7 521.13 L231.55 524.21 L232.4 520.72 L233.25 524.65 L234.1 518.58 L234.95 520.36 L235.8 520.17 L236.65 521.58 L237.5 518.2 L238.35 509.45 L239.2 503.89 L240.05 498.04 L240.9 496.5 L241.75 498.18 L242.6 501.08 L243.45 509.53 L244.3 516.08 L245.15 516.43 L246 520.53 L246.85 523.05 L247.7 524.56 L248.55 522.14 L249.4 518.74 L250.25 521.28 L251.1 519.67 L251.95 522.41 L252.8 519.84 L253.65 519.43 L254.5 521.83 L255.35 519.1 L256.2 523.02 L257.05 524.31 L257.9 524.31 L258.75 520.74 L259.6 522.09 L260.45 522.47 L261.3 521.49 L262.15 521.2 L263 518.27 L263.85 518.58 L264.7 520.81 L265.55 520.72 L266.4 519.12" stroke="#ef4f4d" stroke-width="0.62" fill="none" stroke-linejoin="round"/>
<line x1="240" y1="494.4" x2="242.8" y2="494.4" stroke="#555" stroke-width="0.9"/>
<text x="27.7" y="275.6" font-family="'Liberation Sans', Arial, sans-serif" font-size="13.2" stroke="#000" stroke-width="0.45">O</text>
<text transform="translate(28.7 367.3) scale(0.9 1)" font-family="'Liberation Sans', Arial, sans-serif" font-size="12.7" stroke="#000" stroke-width="0.55">C</text>
<text x="27.8" y="459.8" font-family="'Liberation Sans', Arial, sans-serif" font-size="12.5" font-weight="bold">N</text>
<line x1="330.1" y1="48.6" x2="330.1" y2="51.5" stroke="#3a3a3a" stroke-width="0.6"/>
<line x1="328.4" y1="48.6" x2="331.8" y2="48.6" stroke="#3a3a3a" stroke-width="0.6"/>
<line x1="341.3" y1="84" x2="341.3" y2="86.5" stroke="#fb0a5f" stroke-width="0.6"/>
<line x1="339.6" y1="84" x2="343" y2="84" stroke="#fb0a5f" stroke-width="0.6"/>
<rect x="326.4" y="51" width="7.4" height="64.2" fill="#050505"/>
<rect x="337.6" y="86" width="7.4" height="29.2" fill="#fb0a5f"/>
<line x1="361.1" y1="40" x2="361.1" y2="44.1" stroke="#3a3a3a" stroke-width="0.6"/>
<line x1="359.4" y1="40" x2="362.8" y2="40" stroke="#3a3a3a" stroke-width="0.6"/>
<line x1="372.3" y1="73.6" x2="372.3" y2="76.9" stroke="#fb0a5f" stroke-width="0.6"/>
<line x1="370.6" y1="73.6" x2="374" y2="73.6" stroke="#fb0a5f" stroke-width="0.6"/>
<rect x="357.4" y="43.6" width="7.4" height="71.6" fill="#050505"/>
<rect x="368.6" y="76.4" width="7.4" height="38.8" fill="#fb0a5f"/>
<line x1="391.4" y1="48" x2="391.4" y2="50.9" stroke="#3a3a3a" stroke-width="0.6"/>
<line x1="389.7" y1="48" x2="393.1" y2="48" stroke="#3a3a3a" stroke-width="0.6"/>
<line x1="402.6" y1="82.4" x2="402.6" y2="86.9" stroke="#fb0a5f" stroke-width="0.6"/>
<line x1="400.9" y1="82.4" x2="404.3" y2="82.4" stroke="#fb0a5f" stroke-width="0.6"/>
<rect x="387.7" y="50.4" width="7.4" height="64.8" fill="#050505"/>
<rect x="398.9" y="86.4" width="7.4" height="28.8" fill="#fb0a5f"/>
<line x1="422.3" y1="50" x2="422.3" y2="54.5" stroke="#3a3a3a" stroke-width="0.6"/>
<line x1="420.6" y1="50" x2="424" y2="50" stroke="#3a3a3a" stroke-width="0.6"/>
<line x1="433.5" y1="73.4" x2="433.5" y2="76.9" stroke="#fb0a5f" stroke-width="0.6"/>
<line x1="431.8" y1="73.4" x2="435.2" y2="73.4" stroke="#fb0a5f" stroke-width="0.6"/>
<rect x="418.6" y="54" width="7.4" height="61.2" fill="#050505"/>
<rect x="429.8" y="76.4" width="7.4" height="38.8" fill="#fb0a5f"/>
<line x1="321.3" y1="35.2" x2="321.3" y2="115.8" stroke="#000" stroke-width="1.2"/>
<line x1="320.7" y1="115.2" x2="441" y2="115.2" stroke="#000" stroke-width="1.2"/>
<line x1="318.3" y1="115.5" x2="321.3" y2="115.5" stroke="#000" stroke-width="1"/>
<text x="317.7" y="117.29" font-family="'Liberation Sans', Arial, sans-serif" font-size="5.8" font-weight="bold" text-anchor="end">0</text>
<line x1="318.3" y1="88.5" x2="321.3" y2="88.5" stroke="#000" stroke-width="1"/>
<text x="317.7" y="90.82" font-family="'Liberation Sans', Arial, sans-serif" font-size="5.8" font-weight="bold" text-anchor="end">10</text>
<line x1="318.3" y1="62.5" x2="321.3" y2="62.5" stroke="#000" stroke-width="1"/>
<text x="317.7" y="64.35" font-family="'Liberation Sans', Arial, sans-serif" font-size="5.8" font-weight="bold" text-anchor="end">20</text>
<line x1="318.3" y1="35.5" x2="321.3" y2="35.5" stroke="#000" stroke-width="1"/>
<text x="317.7" y="37.89" font-family="'Liberation Sans', Arial, sans-serif" font-size="5.8" font-weight="bold" text-anchor="end">30</text>
<line x1="335.5" y1="115.2" x2="335.5" y2="117.9" stroke="#000" stroke-width="1"/>
<text transform="translate(337.3 121.9) scale(1 1) rotate(-45)" font-family="'Liberation Sans', Arial, sans-serif" font-size="6.3" font-weight="bold" text-anchor="end">PEEK</text>
<line x1="366.5" y1="115.2" x2="366.5" y2="117.9" stroke="#000" stroke-width="1"/>
<text transform="translate(368.3 121.9) scale(1 1) rotate(-45)" font-family="'Liberation Sans', Arial, sans-serif" font-size="6.3" font-weight="bold" text-anchor="end">10%HA/PEEK</text>
<line x1="397.5" y1="115.2" x2="397.5" y2="117.9" stroke="#000" stroke-width="1"/>
<text transform="translate(398.6 121.9) scale(1 1) rotate(-45)" font-family="'Liberation Sans', Arial, sans-serif" font-size="6.3" font-weight="bold" text-anchor="end">20%HA/PEEK</text>
<line x1="427.5" y1="115.2" x2="427.5" y2="117.9" stroke="#000" stroke-width="1"/>
<text transform="translate(429.5 121.9) scale(1 1) rotate(-45)" font-family="'Liberation Sans', Arial, sans-serif" font-size="6.3" font-weight="bold" text-anchor="end">30%HA/PEEK</text>
<text x="308.4" y="77.5" font-family="'Liberation Sans', Arial, sans-serif" font-size="7.6" font-weight="bold" text-anchor="middle" textLength="73" lengthAdjust="spacingAndGlyphs" transform="rotate(-90 308.4 77.5)">The crystallinity (%)</text>
<path d="M329.6 43 V30.6 H341.6 V80" stroke="#111" stroke-width="1" fill="none"/>
<text transform="translate(336.29 25.7) scale(1 1)" y="4.17" font-family="'Liberation Sans', Arial, sans-serif" font-size="8.3" font-weight="bold" text-anchor="middle" letter-spacing="1.37" stroke="#000" stroke-width="0.29">****</text>
<path d="M360.4 37 V30.6 H372.4 V69" stroke="#111" stroke-width="1" fill="none"/>
<text transform="translate(367.08 25.7) scale(1 1)" y="4.17" font-family="'Liberation Sans', Arial, sans-serif" font-size="8.3" font-weight="bold" text-anchor="middle" letter-spacing="1.37" stroke="#000" stroke-width="0.29">****</text>
<path d="M391 43 V30.6 H402.6 V78.6" stroke="#111" stroke-width="1" fill="none"/>
<text transform="translate(397.49 25.7) scale(1 1)" y="4.17" font-family="'Liberation Sans', Arial, sans-serif" font-size="8.3" font-weight="bold" text-anchor="middle" letter-spacing="1.37" stroke="#000" stroke-width="0.29">****</text>
<path d="M421.6 46.4 V30.6 H433.4 V69" stroke="#111" stroke-width="1" fill="none"/>
<text transform="translate(428.19 25.7) scale(1 1)" y="4.17" font-family="'Liberation Sans', Arial, sans-serif" font-size="8.3" font-weight="bold" text-anchor="middle" letter-spacing="1.37" stroke="#000" stroke-width="0.29">****</text>
<rect x="420" y="3" width="8.4" height="3.7" fill="#050505"/>
<rect x="420" y="13.7" width="8.4" height="3.8" fill="#fb0a5f"/>
<text x="433" y="7.3" font-family="'Liberation Sans', Arial, sans-serif" font-size="6.6" font-weight="bold" textLength="14" lengthAdjust="spacingAndGlyphs">High</text>
<text x="433" y="17.7" font-family="'Liberation Sans', Arial, sans-serif" font-size="6.6" font-weight="bold" textLength="12.6" lengthAdjust="spacingAndGlyphs">Low</text>
<line x1="333.3" y1="187.6" x2="333.3" y2="194.9" stroke="#3a3a3a" stroke-width="0.6"/>
<line x1="331.6" y1="187.6" x2="335" y2="187.6" stroke="#3a3a3a" stroke-width="0.6"/>
<line x1="344.7" y1="189.6" x2="344.7" y2="196.5" stroke="#fb0a5f" stroke-width="0.6"/>
<line x1="343" y1="189.6" x2="346.4" y2="189.6" stroke="#fb0a5f" stroke-width="0.6"/>
<rect x="329.6" y="194.4" width="7.4" height="51" fill="#050505"/>
<rect x="341" y="196" width="7.4" height="49.4" fill="#fb0a5f"/>
<line x1="363.6" y1="181" x2="363.6" y2="188.1" stroke="#3a3a3a" stroke-width="0.6"/>
<line x1="361.9" y1="181" x2="365.3" y2="181" stroke="#3a3a3a" stroke-width="0.6"/>
<line x1="375" y1="181.4" x2="375" y2="191.5" stroke="#fb0a5f" stroke-width="0.6"/>
<line x1="373.3" y1="181.4" x2="376.7" y2="181.4" stroke="#fb0a5f" stroke-width="0.6"/>
<rect x="359.9" y="187.6" width="7.4" height="57.8" fill="#050505"/>
<rect x="371.3" y="191" width="7.4" height="54.4" fill="#fb0a5f"/>
<line x1="393.7" y1="191" x2="393.7" y2="197.5" stroke="#3a3a3a" stroke-width="0.6"/>
<line x1="392" y1="191" x2="395.4" y2="191" stroke="#3a3a3a" stroke-width="0.6"/>
<line x1="405.1" y1="189" x2="405.1" y2="198.9" stroke="#fb0a5f" stroke-width="0.6"/>
<line x1="403.4" y1="189" x2="406.8" y2="189" stroke="#fb0a5f" stroke-width="0.6"/>
<rect x="390" y="197" width="7.4" height="48.4" fill="#050505"/>
<rect x="401.4" y="198.4" width="7.4" height="47" fill="#fb0a5f"/>
<line x1="423.9" y1="182" x2="423.9" y2="192.1" stroke="#3a3a3a" stroke-width="0.6"/>
<line x1="422.2" y1="182" x2="425.6" y2="182" stroke="#3a3a3a" stroke-width="0.6"/>
<line x1="435.3" y1="186.6" x2="435.3" y2="194.1" stroke="#fb0a5f" stroke-width="0.6"/>
<line x1="433.6" y1="186.6" x2="437" y2="186.6" stroke="#fb0a5f" stroke-width="0.6"/>
<rect x="420.2" y="191.6" width="7.4" height="53.8" fill="#050505"/>
<rect x="431.6" y="193.6" width="7.4" height="51.8" fill="#fb0a5f"/>
<line x1="325.6" y1="166.8" x2="325.6" y2="246" stroke="#000" stroke-width="1.2"/>
<line x1="325" y1="245.4" x2="443" y2="245.4" stroke="#000" stroke-width="1.2"/>
<line x1="322.6" y1="245.5" x2="325.6" y2="245.5" stroke="#000" stroke-width="1"/>
<text x="322" y="247.49" font-family="'Liberation Sans', Arial, sans-serif" font-size="5.8" font-weight="bold" text-anchor="end">0</text>
<line x1="322.6" y1="225.5" x2="325.6" y2="225.5" stroke="#000" stroke-width="1"/>
<text x="322" y="227.99" font-family="'Liberation Sans', Arial, sans-serif" font-size="5.8" font-weight="bold" text-anchor="end">5</text>
<line x1="322.6" y1="206.5" x2="325.6" y2="206.5" stroke="#000" stroke-width="1"/>
<text x="322" y="208.49" font-family="'Liberation Sans', Arial, sans-serif" font-size="5.8" font-weight="bold" text-anchor="end">10</text>
<line x1="322.6" y1="186.5" x2="325.6" y2="186.5" stroke="#000" stroke-width="1"/>
<text x="322" y="188.99" font-family="'Liberation Sans', Arial, sans-serif" font-size="5.8" font-weight="bold" text-anchor="end">15</text>
<line x1="322.6" y1="167.5" x2="325.6" y2="167.5" stroke="#000" stroke-width="1"/>
<text x="322" y="169.49" font-family="'Liberation Sans', Arial, sans-serif" font-size="5.8" font-weight="bold" text-anchor="end">20</text>
<line x1="339.5" y1="245.4" x2="339.5" y2="248.1" stroke="#000" stroke-width="1"/>
<text transform="translate(341 253.9) scale(1 0.92) rotate(-45)" font-family="'Liberation Sans', Arial, sans-serif" font-size="5.95" font-weight="bold" text-anchor="end">PEEK</text>
<line x1="369.5" y1="245.4" x2="369.5" y2="248.1" stroke="#000" stroke-width="1"/>
<text transform="translate(371.3 253.9) scale(1 0.92) rotate(-45)" font-family="'Liberation Sans', Arial, sans-serif" font-size="5.95" font-weight="bold" text-anchor="end">10%HA/PEEK</text>
<line x1="399.5" y1="245.4" x2="399.5" y2="248.1" stroke="#000" stroke-width="1"/>
<text transform="translate(401.4 253.9) scale(1 0.92) rotate(-45)" font-family="'Liberation Sans', Arial, sans-serif" font-size="5.95" font-weight="bold" text-anchor="end">20%HA/PEEK</text>
<line x1="429.5" y1="245.4" x2="429.5" y2="248.1" stroke="#000" stroke-width="1"/>
<text transform="translate(431.6 253.9) scale(1 0.92) rotate(-45)" font-family="'Liberation Sans', Arial, sans-serif" font-size="5.95" font-weight="bold" text-anchor="end">30%HA/PEEK</text>
<text x="308" y="206" font-family="'Liberation Sans', Arial, sans-serif" font-size="6.6" font-weight="bold" text-anchor="middle" textLength="96" lengthAdjust="spacingAndGlyphs" transform="rotate(-90 308 206)">concentration of O element (%)</text>
<line x1="333.9" y1="310.6" x2="333.9" y2="313.1" stroke="#3a3a3a" stroke-width="0.6"/>
<line x1="332.2" y1="310.6" x2="335.6" y2="310.6" stroke="#3a3a3a" stroke-width="0.6"/>
<line x1="345.3" y1="312" x2="345.3" y2="313.5" stroke="#fb0a5f" stroke-width="0.6"/>
<line x1="343.6" y1="312" x2="347" y2="312" stroke="#fb0a5f" stroke-width="0.6"/>
<rect x="330.2" y="312.6" width="7.4" height="66.4" fill="#050505"/>
<rect x="341.6" y="313" width="7.4" height="66" fill="#fb0a5f"/>
<line x1="364.1" y1="312.6" x2="364.1" y2="315.1" stroke="#3a3a3a" stroke-width="0.6"/>
<line x1="362.4" y1="312.6" x2="365.8" y2="312.6" stroke="#3a3a3a" stroke-width="0.6"/>
<line x1="375.5" y1="311.6" x2="375.5" y2="314.9" stroke="#fb0a5f" stroke-width="0.6"/>
<line x1="373.8" y1="311.6" x2="377.2" y2="311.6" stroke="#fb0a5f" stroke-width="0.6"/>
<rect x="360.4" y="314.6" width="7.4" height="64.4" fill="#050505"/>
<rect x="371.8" y="314.4" width="7.4" height="64.6" fill="#fb0a5f"/>
<line x1="394.5" y1="311" x2="394.5" y2="313.9" stroke="#3a3a3a" stroke-width="0.6"/>
<line x1="392.8" y1="311" x2="396.2" y2="311" stroke="#3a3a3a" stroke-width="0.6"/>
<line x1="405.9" y1="311" x2="405.9" y2="313.5" stroke="#fb0a5f" stroke-width="0.6"/>
<line x1="404.2" y1="311" x2="407.6" y2="311" stroke="#fb0a5f" stroke-width="0.6"/>
<rect x="390.8" y="313.4" width="7.4" height="65.6" fill="#050505"/>
<rect x="402.2" y="313" width="7.4" height="66" fill="#fb0a5f"/>
<line x1="424.6" y1="311.6" x2="424.6" y2="314.9" stroke="#3a3a3a" stroke-width="0.6"/>
<line x1="422.9" y1="311.6" x2="426.3" y2="311.6" stroke="#3a3a3a" stroke-width="0.6"/>
<line x1="436" y1="311.4" x2="436" y2="314.1" stroke="#fb0a5f" stroke-width="0.6"/>
<line x1="434.3" y1="311.4" x2="437.7" y2="311.4" stroke="#fb0a5f" stroke-width="0.6"/>
<rect x="420.9" y="314.4" width="7.4" height="64.6" fill="#050505"/>
<rect x="432.3" y="313.6" width="7.4" height="65.4" fill="#fb0a5f"/>
<line x1="326" y1="300.4" x2="326" y2="379.6" stroke="#000" stroke-width="1.2"/>
<line x1="325.4" y1="379" x2="443.6" y2="379" stroke="#000" stroke-width="1.2"/>
<line x1="323" y1="379.5" x2="326" y2="379.5" stroke="#000" stroke-width="1"/>
<text x="322.4" y="381.09" font-family="'Liberation Sans', Arial, sans-serif" font-size="5.8" font-weight="bold" text-anchor="end">0</text>
<line x1="323" y1="363.5" x2="326" y2="363.5" stroke="#000" stroke-width="1"/>
<text x="322.4" y="365.49" font-family="'Liberation Sans', Arial, sans-serif" font-size="5.8" font-weight="bold" text-anchor="end">20</text>
<line x1="323" y1="347.5" x2="326" y2="347.5" stroke="#000" stroke-width="1"/>
<text x="322.4" y="349.89" font-family="'Liberation Sans', Arial, sans-serif" font-size="5.8" font-weight="bold" text-anchor="end">40</text>
<line x1="323" y1="332.5" x2="326" y2="332.5" stroke="#000" stroke-width="1"/>
<text x="322.4" y="334.29" font-family="'Liberation Sans', Arial, sans-serif" font-size="5.8" font-weight="bold" text-anchor="end">60</text>
<line x1="323" y1="316.5" x2="326" y2="316.5" stroke="#000" stroke-width="1"/>
<text x="322.4" y="318.69" font-family="'Liberation Sans', Arial, sans-serif" font-size="5.8" font-weight="bold" text-anchor="end">80</text>
<line x1="323" y1="301.5" x2="326" y2="301.5" stroke="#000" stroke-width="1"/>
<text x="322.4" y="303.09" font-family="'Liberation Sans', Arial, sans-serif" font-size="5.8" font-weight="bold" text-anchor="end">100</text>
<line x1="339.5" y1="379" x2="339.5" y2="381.7" stroke="#000" stroke-width="1"/>
<text transform="translate(341.6 387.5) scale(1 0.92) rotate(-45)" font-family="'Liberation Sans', Arial, sans-serif" font-size="5.95" font-weight="bold" text-anchor="end">PEEK</text>
<line x1="369.5" y1="379" x2="369.5" y2="381.7" stroke="#000" stroke-width="1"/>
<text transform="translate(371.8 387.5) scale(1 0.92) rotate(-45)" font-family="'Liberation Sans', Arial, sans-serif" font-size="5.95" font-weight="bold" text-anchor="end">10%HA/PEEK</text>
<line x1="400.5" y1="379" x2="400.5" y2="381.7" stroke="#000" stroke-width="1"/>
<text transform="translate(402.2 387.5) scale(1 0.92) rotate(-45)" font-family="'Liberation Sans', Arial, sans-serif" font-size="5.95" font-weight="bold" text-anchor="end">20%HA/PEEK</text>
<line x1="430.5" y1="379" x2="430.5" y2="381.7" stroke="#000" stroke-width="1"/>
<text transform="translate(432.3 387.5) scale(1 0.92) rotate(-45)" font-family="'Liberation Sans', Arial, sans-serif" font-size="5.95" font-weight="bold" text-anchor="end">30%HA/PEEK</text>
<text x="308.4" y="339" font-family="'Liberation Sans', Arial, sans-serif" font-size="6.6" font-weight="bold" text-anchor="middle" textLength="96" lengthAdjust="spacingAndGlyphs" transform="rotate(-90 308.4 339)">concentration of C element (%)</text>
<line x1="334" y1="466" x2="334" y2="482.5" stroke="#3a3a3a" stroke-width="0.6"/>
<line x1="332.3" y1="466" x2="335.7" y2="466" stroke="#3a3a3a" stroke-width="0.6"/>
<line x1="345.4" y1="455.6" x2="345.4" y2="472.5" stroke="#fb0a5f" stroke-width="0.6"/>
<line x1="343.7" y1="455.6" x2="347.1" y2="455.6" stroke="#fb0a5f" stroke-width="0.6"/>
<rect x="330.3" y="482" width="7.4" height="24" fill="#050505"/>
<rect x="341.7" y="472" width="7.4" height="34" fill="#fb0a5f"/>
<line x1="364.2" y1="465" x2="364.2" y2="478.5" stroke="#3a3a3a" stroke-width="0.6"/>
<line x1="362.5" y1="465" x2="365.9" y2="465" stroke="#3a3a3a" stroke-width="0.6"/>
<line x1="375.6" y1="448.2" x2="375.6" y2="468.5" stroke="#fb0a5f" stroke-width="0.6"/>
<line x1="373.9" y1="448.2" x2="377.3" y2="448.2" stroke="#fb0a5f" stroke-width="0.6"/>
<rect x="360.5" y="478" width="7.4" height="28" fill="#050505"/>
<rect x="371.9" y="468" width="7.4" height="38" fill="#fb0a5f"/>
<line x1="394.6" y1="447.2" x2="394.6" y2="466.5" stroke="#3a3a3a" stroke-width="0.6"/>
<line x1="392.9" y1="447.2" x2="396.3" y2="447.2" stroke="#3a3a3a" stroke-width="0.6"/>
<line x1="406" y1="450.6" x2="406" y2="471.1" stroke="#fb0a5f" stroke-width="0.6"/>
<line x1="404.3" y1="450.6" x2="407.7" y2="450.6" stroke="#fb0a5f" stroke-width="0.6"/>
<rect x="390.9" y="466" width="7.4" height="40" fill="#050505"/>
<rect x="402.3" y="470.6" width="7.4" height="35.4" fill="#fb0a5f"/>
<line x1="424.6" y1="463" x2="424.6" y2="476.1" stroke="#3a3a3a" stroke-width="0.6"/>
<line x1="422.9" y1="463" x2="426.3" y2="463" stroke="#3a3a3a" stroke-width="0.6"/>
<line x1="436" y1="467" x2="436" y2="482.1" stroke="#fb0a5f" stroke-width="0.6"/>
<line x1="434.3" y1="467" x2="437.7" y2="467" stroke="#fb0a5f" stroke-width="0.6"/>
<rect x="420.9" y="475.6" width="7.4" height="30.4" fill="#050505"/>
<rect x="432.3" y="481.6" width="7.4" height="24.4" fill="#fb0a5f"/>
<line x1="326.4" y1="427.4" x2="326.4" y2="506.6" stroke="#000" stroke-width="1.2"/>
<line x1="325.8" y1="506" x2="443.6" y2="506" stroke="#000" stroke-width="1.2"/>
<line x1="323.4" y1="506.5" x2="326.4" y2="506.5" stroke="#000" stroke-width="1"/>
<text x="322.8" y="508.09" font-family="'Liberation Sans', Arial, sans-serif" font-size="5.8" font-weight="bold" text-anchor="end">0</text>
<line x1="323.4" y1="486.5" x2="326.4" y2="486.5" stroke="#000" stroke-width="1"/>
<text x="322.8" y="488.59" font-family="'Liberation Sans', Arial, sans-serif" font-size="5.8" font-weight="bold" text-anchor="end">1</text>
<line x1="323.4" y1="467.5" x2="326.4" y2="467.5" stroke="#000" stroke-width="1"/>
<text x="322.8" y="469.09" font-family="'Liberation Sans', Arial, sans-serif" font-size="5.8" font-weight="bold" text-anchor="end">2</text>
<line x1="323.4" y1="447.5" x2="326.4" y2="447.5" stroke="#000" stroke-width="1"/>
<text x="322.8" y="449.59" font-family="'Liberation Sans', Arial, sans-serif" font-size="5.8" font-weight="bold" text-anchor="end">3</text>
<line x1="323.4" y1="428.5" x2="326.4" y2="428.5" stroke="#000" stroke-width="1"/>
<text x="322.8" y="430.09" font-family="'Liberation Sans', Arial, sans-serif" font-size="5.8" font-weight="bold" text-anchor="end">4</text>
<line x1="339.5" y1="506" x2="339.5" y2="508.7" stroke="#000" stroke-width="1"/>
<text transform="translate(341.7 514.5) scale(1 0.92) rotate(-45)" font-family="'Liberation Sans', Arial, sans-serif" font-size="5.95" font-weight="bold" text-anchor="end">PEEK</text>
<line x1="369.5" y1="506" x2="369.5" y2="508.7" stroke="#000" stroke-width="1"/>
<text transform="translate(371.9 514.5) scale(1 0.92) rotate(-45)" font-family="'Liberation Sans', Arial, sans-serif" font-size="5.95" font-weight="bold" text-anchor="end">10%HA/PEEK</text>
<line x1="400.5" y1="506" x2="400.5" y2="508.7" stroke="#000" stroke-width="1"/>
<text transform="translate(402.3 514.5) scale(1 0.92) rotate(-45)" font-family="'Liberation Sans', Arial, sans-serif" font-size="5.95" font-weight="bold" text-anchor="end">20%HA/PEEK</text>
<line x1="430.5" y1="506" x2="430.5" y2="508.7" stroke="#000" stroke-width="1"/>
<text transform="translate(432.3 514.5) scale(1 0.92) rotate(-45)" font-family="'Liberation Sans', Arial, sans-serif" font-size="5.95" font-weight="bold" text-anchor="end">30%HA/PEEK</text>
<text x="309.4" y="467.1" font-family="'Liberation Sans', Arial, sans-serif" font-size="6.6" font-weight="bold" text-anchor="middle" textLength="95" lengthAdjust="spacingAndGlyphs" transform="rotate(-90 309.4 467.1)">concentration of N element (%)</text>
<line x1="34.8" y1="576" x2="34.8" y2="577.1" stroke="#3a3a3a" stroke-width="0.5"/>
<line x1="33.6" y1="576" x2="36" y2="576" stroke="#3a3a3a" stroke-width="0.5"/>
<line x1="42.8" y1="588.6" x2="42.8" y2="590.9" stroke="#fb0a5f" stroke-width="0.5"/>
<line x1="41.6" y1="588.6" x2="44" y2="588.6" stroke="#fb0a5f" stroke-width="0.5"/>
<rect x="32.1" y="576.6" width="5.4" height="46.9" fill="#050505"/>
<rect x="40.1" y="590.4" width="5.4" height="33.1" fill="#fb0a5f"/>
<line x1="56.3" y1="579" x2="56.3" y2="582.1" stroke="#3a3a3a" stroke-width="0.5"/>
<line x1="55.1" y1="579" x2="57.5" y2="579" stroke="#3a3a3a" stroke-width="0.5"/>
<line x1="64.3" y1="592.4" x2="64.3" y2="593.5" stroke="#fb0a5f" stroke-width="0.5"/>
<line x1="63.1" y1="592.4" x2="65.5" y2="592.4" stroke="#fb0a5f" stroke-width="0.5"/>
<rect x="53.6" y="581.6" width="5.4" height="41.9" fill="#050505"/>
<rect x="61.6" y="593" width="5.4" height="30.5" fill="#fb0a5f"/>
<line x1="78" y1="577" x2="78" y2="578.1" stroke="#3a3a3a" stroke-width="0.5"/>
<line x1="76.8" y1="577" x2="79.2" y2="577" stroke="#3a3a3a" stroke-width="0.5"/>
<line x1="86" y1="580" x2="86" y2="580.9" stroke="#fb0a5f" stroke-width="0.5"/>
<line x1="84.8" y1="580" x2="87.2" y2="580" stroke="#fb0a5f" stroke-width="0.5"/>
<rect x="75.3" y="577.6" width="5.4" height="45.9" fill="#050505"/>
<rect x="83.3" y="580.4" width="5.4" height="43.1" fill="#fb0a5f"/>
<line x1="99.7" y1="581.6" x2="99.7" y2="582.9" stroke="#3a3a3a" stroke-width="0.5"/>
<line x1="98.5" y1="581.6" x2="100.9" y2="581.6" stroke="#3a3a3a" stroke-width="0.5"/>
<line x1="107.7" y1="589" x2="107.7" y2="590.1" stroke="#fb0a5f" stroke-width="0.5"/>
<line x1="106.5" y1="589" x2="108.9" y2="589" stroke="#fb0a5f" stroke-width="0.5"/>
<rect x="97" y="582.4" width="5.4" height="41.1" fill="#050505"/>
<rect x="105" y="589.6" width="5.4" height="33.9" fill="#fb0a5f"/>
<line x1="30" y1="581.6" x2="118" y2="581.6" stroke="#f4191f" stroke-width="1.3" stroke-dasharray="1.3 1.2"/>
<line x1="29.5" y1="551.1" x2="29.5" y2="624" stroke="#000" stroke-width="1"/>
<line x1="29" y1="623.5" x2="113" y2="623.5" stroke="#000" stroke-width="1"/>
<line x1="26.7" y1="623.5" x2="29.5" y2="623.5" stroke="#000" stroke-width="1"/>
<text x="26.4" y="625.05" font-family="'Liberation Sans', Arial, sans-serif" font-size="5" font-weight="bold" text-anchor="end" textLength="2.2" lengthAdjust="spacingAndGlyphs">0</text>
<line x1="26.7" y1="599.5" x2="29.5" y2="599.5" stroke="#000" stroke-width="1"/>
<text x="26.4" y="601.08" font-family="'Liberation Sans', Arial, sans-serif" font-size="5" font-weight="bold" text-anchor="end" textLength="4.39" lengthAdjust="spacingAndGlyphs">50</text>
<line x1="26.7" y1="575.5" x2="29.5" y2="575.5" stroke="#000" stroke-width="1"/>
<text x="26.4" y="577.12" font-family="'Liberation Sans', Arial, sans-serif" font-size="5" font-weight="bold" text-anchor="end" textLength="6.59" lengthAdjust="spacingAndGlyphs">100</text>
<line x1="26.7" y1="551.5" x2="29.5" y2="551.5" stroke="#000" stroke-width="1"/>
<text x="26.4" y="553.15" font-family="'Liberation Sans', Arial, sans-serif" font-size="5" font-weight="bold" text-anchor="end" textLength="6.59" lengthAdjust="spacingAndGlyphs">150</text>
<line x1="38.5" y1="623.5" x2="38.5" y2="626.02" stroke="#000" stroke-width="1"/>
<text transform="translate(39.2 631.1) scale(1 1.23) rotate(-45)" font-family="'Liberation Sans', Arial, sans-serif" font-size="4.1" font-weight="bold" text-anchor="end" stroke="#000" stroke-width="0.28">PEEK</text>
<line x1="60.5" y1="623.5" x2="60.5" y2="626.02" stroke="#000" stroke-width="1"/>
<text transform="translate(60.7 631.1) scale(1 1.23) rotate(-45)" font-family="'Liberation Sans', Arial, sans-serif" font-size="4.1" font-weight="bold" text-anchor="end" stroke="#000" stroke-width="0.28">10%HA/PEEK</text>
<line x1="82.5" y1="623.5" x2="82.5" y2="626.02" stroke="#000" stroke-width="1"/>
<text transform="translate(82.4 631.1) scale(1 1.23) rotate(-45)" font-family="'Liberation Sans', Arial, sans-serif" font-size="4.1" font-weight="bold" text-anchor="end" stroke="#000" stroke-width="0.28">20%HA/PEEK</text>
<line x1="103.5" y1="623.5" x2="103.5" y2="626.02" stroke="#000" stroke-width="1"/>
<text transform="translate(104.1 631.1) scale(1 1.23) rotate(-45)" font-family="'Liberation Sans', Arial, sans-serif" font-size="4.1" font-weight="bold" text-anchor="end" stroke="#000" stroke-width="0.28">30%HA/PEEK</text>
<text x="15.8" y="587.6" font-family="'Liberation Sans', Arial, sans-serif" font-size="4.9" font-weight="bold" text-anchor="middle" textLength="52.6" lengthAdjust="spacingAndGlyphs" transform="rotate(-90 15.8 587.6)">Yield stress (MPa)</text>
<path d="M34.4 572 V567.8 H43 V585.4" stroke="#111" stroke-width="0.8" fill="none"/>
<text transform="translate(39.09 563) scale(1 1.25)" y="3.01" font-family="'Liberation Sans', Arial, sans-serif" font-size="6" font-weight="bold" text-anchor="middle" letter-spacing="0.77" stroke="#000" stroke-width="0.21">****</text>
<path d="M56 575 V567.8 H64.4 V588.4" stroke="#111" stroke-width="0.8" fill="none"/>
<text transform="translate(60.59 563) scale(1 1.25)" y="3.01" font-family="'Liberation Sans', Arial, sans-serif" font-size="6" font-weight="bold" text-anchor="middle" letter-spacing="0.77" stroke="#000" stroke-width="0.21">****</text>
<path d="M77.6 573.4 V567.8 H86 V575.4" stroke="#111" stroke-width="0.8" fill="none"/>
<text transform="translate(82.19 563) scale(1 1.25)" y="3.01" font-family="'Liberation Sans', Arial, sans-serif" font-size="6" font-weight="bold" text-anchor="middle" letter-spacing="0.77" stroke="#000" stroke-width="0.21">**</text>
<path d="M99.4 575.4 V567.8 H108 V584.4" stroke="#111" stroke-width="0.8" fill="none"/>
<text transform="translate(104.09 563) scale(1 1.25)" y="3.01" font-family="'Liberation Sans', Arial, sans-serif" font-size="6" font-weight="bold" text-anchor="middle" letter-spacing="0.77" stroke="#000" stroke-width="0.21">****</text>
<line x1="153.5" y1="569.6" x2="153.5" y2="573.5" stroke="#3a3a3a" stroke-width="0.5"/>
<line x1="152.3" y1="569.6" x2="154.7" y2="569.6" stroke="#3a3a3a" stroke-width="0.5"/>
<line x1="161.5" y1="583.4" x2="161.5" y2="584.9" stroke="#fb0a5f" stroke-width="0.5"/>
<line x1="160.3" y1="583.4" x2="162.7" y2="583.4" stroke="#fb0a5f" stroke-width="0.5"/>
<rect x="150.8" y="573" width="5.4" height="54.5" fill="#050505"/>
<rect x="158.8" y="584.4" width="5.4" height="43.1" fill="#fb0a5f"/>
<line x1="175.2" y1="572.4" x2="175.2" y2="576.1" stroke="#3a3a3a" stroke-width="0.5"/>
<line x1="174" y1="572.4" x2="176.4" y2="572.4" stroke="#3a3a3a" stroke-width="0.5"/>
<line x1="183.2" y1="587.6" x2="183.2" y2="588.9" stroke="#fb0a5f" stroke-width="0.5"/>
<line x1="182" y1="587.6" x2="184.4" y2="587.6" stroke="#fb0a5f" stroke-width="0.5"/>
<rect x="172.5" y="575.6" width="5.4" height="51.9" fill="#050505"/>
<rect x="180.5" y="588.4" width="5.4" height="39.1" fill="#fb0a5f"/>
<line x1="196.7" y1="576" x2="196.7" y2="577.5" stroke="#3a3a3a" stroke-width="0.5"/>
<line x1="195.5" y1="576" x2="197.9" y2="576" stroke="#3a3a3a" stroke-width="0.5"/>
<line x1="204.7" y1="579" x2="204.7" y2="580.1" stroke="#fb0a5f" stroke-width="0.5"/>
<line x1="203.5" y1="579" x2="205.9" y2="579" stroke="#fb0a5f" stroke-width="0.5"/>
<rect x="194" y="577" width="5.4" height="50.5" fill="#050505"/>
<rect x="202" y="579.6" width="5.4" height="47.9" fill="#fb0a5f"/>
<line x1="218.2" y1="593.6" x2="218.2" y2="594.9" stroke="#3a3a3a" stroke-width="0.5"/>
<line x1="217" y1="593.6" x2="219.4" y2="593.6" stroke="#3a3a3a" stroke-width="0.5"/>
<line x1="226.2" y1="598" x2="226.2" y2="601.5" stroke="#fb0a5f" stroke-width="0.5"/>
<line x1="225" y1="598" x2="227.4" y2="598" stroke="#fb0a5f" stroke-width="0.5"/>
<rect x="215.5" y="594.4" width="5.4" height="33.1" fill="#050505"/>
<rect x="223.5" y="601" width="5.4" height="26.5" fill="#fb0a5f"/>
<line x1="149" y1="581" x2="237" y2="581" stroke="#f4191f" stroke-width="1.3" stroke-dasharray="1.3 1.2"/>
<line x1="148.5" y1="560.5" x2="148.5" y2="628" stroke="#000" stroke-width="1"/>
<line x1="148" y1="627.5" x2="232" y2="627.5" stroke="#000" stroke-width="1"/>
<line x1="145.7" y1="627.5" x2="148.5" y2="627.5" stroke="#000" stroke-width="1"/>
<text x="145.4" y="629.05" font-family="'Liberation Sans', Arial, sans-serif" font-size="5" font-weight="bold" text-anchor="end" textLength="2.2" lengthAdjust="spacingAndGlyphs">0</text>
<line x1="145.7" y1="614.5" x2="148.5" y2="614.5" stroke="#000" stroke-width="1"/>
<text x="145.4" y="615.75" font-family="'Liberation Sans', Arial, sans-serif" font-size="5" font-weight="bold" text-anchor="end" textLength="4.39" lengthAdjust="spacingAndGlyphs">20</text>
<line x1="145.7" y1="600.5" x2="148.5" y2="600.5" stroke="#000" stroke-width="1"/>
<text x="145.4" y="602.45" font-family="'Liberation Sans', Arial, sans-serif" font-size="5" font-weight="bold" text-anchor="end" textLength="4.39" lengthAdjust="spacingAndGlyphs">40</text>
<line x1="145.7" y1="587.5" x2="148.5" y2="587.5" stroke="#000" stroke-width="1"/>
<text x="145.4" y="589.15" font-family="'Liberation Sans', Arial, sans-serif" font-size="5" font-weight="bold" text-anchor="end" textLength="4.39" lengthAdjust="spacingAndGlyphs">60</text>
<line x1="145.7" y1="574.5" x2="148.5" y2="574.5" stroke="#000" stroke-width="1"/>
<text x="145.4" y="575.85" font-family="'Liberation Sans', Arial, sans-serif" font-size="5" font-weight="bold" text-anchor="end" textLength="4.39" lengthAdjust="spacingAndGlyphs">80</text>
<line x1="145.7" y1="561.5" x2="148.5" y2="561.5" stroke="#000" stroke-width="1"/>
<text x="145.4" y="562.55" font-family="'Liberation Sans', Arial, sans-serif" font-size="5" font-weight="bold" text-anchor="end" textLength="6.59" lengthAdjust="spacingAndGlyphs">100</text>
<line x1="157.5" y1="627.5" x2="157.5" y2="630.02" stroke="#000" stroke-width="1"/>
<text transform="translate(157.9 635.1) scale(1 1.23) rotate(-45)" font-family="'Liberation Sans', Arial, sans-serif" font-size="4.1" font-weight="bold" text-anchor="end" stroke="#000" stroke-width="0.28">PEEK</text>
<line x1="179.5" y1="627.5" x2="179.5" y2="630.02" stroke="#000" stroke-width="1"/>
<text transform="translate(179.6 635.1) scale(1 1.23) rotate(-45)" font-family="'Liberation Sans', Arial, sans-serif" font-size="4.1" font-weight="bold" text-anchor="end" stroke="#000" stroke-width="0.28">10%HA/PEEK</text>
<line x1="200.5" y1="627.5" x2="200.5" y2="630.02" stroke="#000" stroke-width="1"/>
<text transform="translate(201.1 635.1) scale(1 1.23) rotate(-45)" font-family="'Liberation Sans', Arial, sans-serif" font-size="4.1" font-weight="bold" text-anchor="end" stroke="#000" stroke-width="0.28">20%HA/PEEK</text>
<line x1="222.5" y1="627.5" x2="222.5" y2="630.02" stroke="#000" stroke-width="1"/>
<text transform="translate(222.6 635.1) scale(1 1.23) rotate(-45)" font-family="'Liberation Sans', Arial, sans-serif" font-size="4.1" font-weight="bold" text-anchor="end" stroke="#000" stroke-width="0.28">30%HA/PEEK</text>
<text x="134.8" y="594.3" font-family="'Liberation Sans', Arial, sans-serif" font-size="4.9" font-weight="bold" text-anchor="middle" textLength="57.4" lengthAdjust="spacingAndGlyphs" transform="rotate(-90 134.8 594.3)">Breaking stress (MPa)</text>
<path d="M153 566.6 V562.3 H161.6 V580" stroke="#111" stroke-width="0.8" fill="none"/>
<text transform="translate(157.69 558) scale(1 1.25)" y="3.01" font-family="'Liberation Sans', Arial, sans-serif" font-size="6" font-weight="bold" text-anchor="middle" letter-spacing="0.77" stroke="#000" stroke-width="0.21">****</text>
<path d="M174.4 567 V562.3 H183.4 V583" stroke="#111" stroke-width="0.8" fill="none"/>
<text transform="translate(179.28 558) scale(1 1.25)" y="3.01" font-family="'Liberation Sans', Arial, sans-serif" font-size="6" font-weight="bold" text-anchor="middle" letter-spacing="0.77" stroke="#000" stroke-width="0.21">****</text>
<path d="M218 589.6 V562.3 H226.4 V594" stroke="#111" stroke-width="0.8" fill="none"/>
<text transform="translate(222.58 558) scale(1 1.25)" y="3.01" font-family="'Liberation Sans', Arial, sans-serif" font-size="6" font-weight="bold" text-anchor="middle" letter-spacing="0.77" stroke="#000" stroke-width="0.21">***</text>
<line x1="271.8" y1="617.4" x2="271.8" y2="620.5" stroke="#3a3a3a" stroke-width="0.5"/>
<line x1="270.6" y1="617.4" x2="273" y2="617.4" stroke="#3a3a3a" stroke-width="0.5"/>
<line x1="279.8" y1="568" x2="279.8" y2="571.9" stroke="#fb0a5f" stroke-width="0.5"/>
<line x1="278.6" y1="568" x2="281" y2="568" stroke="#fb0a5f" stroke-width="0.5"/>
<rect x="269.1" y="620" width="5.4" height="7.5" fill="#050505"/>
<rect x="277.1" y="571.4" width="5.4" height="56.1" fill="#fb0a5f"/>
<line x1="293.7" y1="620" x2="293.7" y2="623.5" stroke="#3a3a3a" stroke-width="0.5"/>
<line x1="292.5" y1="620" x2="294.9" y2="620" stroke="#3a3a3a" stroke-width="0.5"/>
<line x1="301.7" y1="575.6" x2="301.7" y2="578.1" stroke="#fb0a5f" stroke-width="0.5"/>
<line x1="300.5" y1="575.6" x2="302.9" y2="575.6" stroke="#fb0a5f" stroke-width="0.5"/>
<rect x="291" y="623" width="5.4" height="4.5" fill="#050505"/>
<rect x="299" y="577.6" width="5.4" height="49.9" fill="#fb0a5f"/>
<line x1="315.2" y1="621" x2="315.2" y2="623.9" stroke="#3a3a3a" stroke-width="0.5"/>
<line x1="314" y1="621" x2="316.4" y2="621" stroke="#3a3a3a" stroke-width="0.5"/>
<line x1="323.2" y1="572.4" x2="323.2" y2="575.9" stroke="#fb0a5f" stroke-width="0.5"/>
<line x1="322" y1="572.4" x2="324.4" y2="572.4" stroke="#fb0a5f" stroke-width="0.5"/>
<rect x="312.5" y="623.4" width="5.4" height="4.1" fill="#050505"/>
<rect x="320.5" y="575.4" width="5.4" height="52.1" fill="#fb0a5f"/>
<line x1="336.8" y1="622" x2="336.8" y2="624.1" stroke="#3a3a3a" stroke-width="0.5"/>
<line x1="335.6" y1="622" x2="338" y2="622" stroke="#3a3a3a" stroke-width="0.5"/>
<line x1="344.8" y1="577.4" x2="344.8" y2="580.5" stroke="#fb0a5f" stroke-width="0.5"/>
<line x1="343.6" y1="577.4" x2="346" y2="577.4" stroke="#fb0a5f" stroke-width="0.5"/>
<rect x="334.1" y="623.6" width="5.4" height="3.9" fill="#050505"/>
<rect x="342.1" y="580" width="5.4" height="47.5" fill="#fb0a5f"/>
<line x1="267" y1="623.4" x2="355" y2="623.4" stroke="#f4191f" stroke-width="1.3" stroke-dasharray="1.3 1.2"/>
<line x1="266.5" y1="560.1" x2="266.5" y2="628" stroke="#000" stroke-width="1"/>
<line x1="266" y1="627.5" x2="350" y2="627.5" stroke="#000" stroke-width="1"/>
<line x1="263.7" y1="627.5" x2="266.5" y2="627.5" stroke="#000" stroke-width="1"/>
<text x="263.4" y="629.05" font-family="'Liberation Sans', Arial, sans-serif" font-size="5" font-weight="bold" text-anchor="end" textLength="2.2" lengthAdjust="spacingAndGlyphs">0</text>
<line x1="263.7" y1="614.5" x2="266.5" y2="614.5" stroke="#000" stroke-width="1"/>
<text x="263.4" y="615.67" font-family="'Liberation Sans', Arial, sans-serif" font-size="5" font-weight="bold" text-anchor="end" textLength="4.39" lengthAdjust="spacingAndGlyphs">20</text>
<line x1="263.7" y1="600.5" x2="266.5" y2="600.5" stroke="#000" stroke-width="1"/>
<text x="263.4" y="602.29" font-family="'Liberation Sans', Arial, sans-serif" font-size="5" font-weight="bold" text-anchor="end" textLength="4.39" lengthAdjust="spacingAndGlyphs">40</text>
<line x1="263.7" y1="587.5" x2="266.5" y2="587.5" stroke="#000" stroke-width="1"/>
<text x="263.4" y="588.91" font-family="'Liberation Sans', Arial, sans-serif" font-size="5" font-weight="bold" text-anchor="end" textLength="4.39" lengthAdjust="spacingAndGlyphs">60</text>
<line x1="263.7" y1="573.5" x2="266.5" y2="573.5" stroke="#000" stroke-width="1"/>
<text x="263.4" y="575.53" font-family="'Liberation Sans', Arial, sans-serif" font-size="5" font-weight="bold" text-anchor="end" textLength="4.39" lengthAdjust="spacingAndGlyphs">80</text>
<line x1="263.7" y1="560.5" x2="266.5" y2="560.5" stroke="#000" stroke-width="1"/>
<text x="263.4" y="562.15" font-family="'Liberation Sans', Arial, sans-serif" font-size="5" font-weight="bold" text-anchor="end" textLength="6.59" lengthAdjust="spacingAndGlyphs">100</text>
<line x1="275.5" y1="627.5" x2="275.5" y2="630.02" stroke="#000" stroke-width="1"/>
<text transform="translate(276.2 635.1) scale(1 1.23) rotate(-45)" font-family="'Liberation Sans', Arial, sans-serif" font-size="4.1" font-weight="bold" text-anchor="end" stroke="#000" stroke-width="0.28">PEEK</text>
<line x1="297.5" y1="627.5" x2="297.5" y2="630.02" stroke="#000" stroke-width="1"/>
<text transform="translate(298.1 635.1) scale(1 1.23) rotate(-45)" font-family="'Liberation Sans', Arial, sans-serif" font-size="4.1" font-weight="bold" text-anchor="end" stroke="#000" stroke-width="0.28">10%HA/PEEK</text>
<line x1="319.5" y1="627.5" x2="319.5" y2="630.02" stroke="#000" stroke-width="1"/>
<text transform="translate(319.6 635.1) scale(1 1.23) rotate(-45)" font-family="'Liberation Sans', Arial, sans-serif" font-size="4.1" font-weight="bold" text-anchor="end" stroke="#000" stroke-width="0.28">20%HA/PEEK</text>
<line x1="340.5" y1="627.5" x2="340.5" y2="630.02" stroke="#000" stroke-width="1"/>
<text transform="translate(341.2 635.1) scale(1 1.23) rotate(-45)" font-family="'Liberation Sans', Arial, sans-serif" font-size="4.1" font-weight="bold" text-anchor="end" stroke="#000" stroke-width="0.28">30%HA/PEEK</text>
<text x="253.2" y="594" font-family="'Liberation Sans', Arial, sans-serif" font-size="4.9" font-weight="bold" text-anchor="middle" textLength="62" lengthAdjust="spacingAndGlyphs" transform="rotate(-90 253.2 594)">Elongation at break (%)</text>
<path d="M271.6 613.2 V560.4 H280.2 V563.7" stroke="#111" stroke-width="0.8" fill="none"/>
<text transform="translate(276.28 555.8) scale(1 1.25)" y="3.01" font-family="'Liberation Sans', Arial, sans-serif" font-size="6" font-weight="bold" text-anchor="middle" letter-spacing="0.77" stroke="#000" stroke-width="0.21">****</text>
<path d="M293.4 617 V560.4 H301.8 V570" stroke="#111" stroke-width="0.8" fill="none"/>
<text transform="translate(297.99 555.8) scale(1 1.25)" y="3.01" font-family="'Liberation Sans', Arial, sans-serif" font-size="6" font-weight="bold" text-anchor="middle" letter-spacing="0.77" stroke="#000" stroke-width="0.21">****</text>
<path d="M315 617 V560.4 H323.5 V569" stroke="#111" stroke-width="0.8" fill="none"/>
<text transform="translate(319.63 555.8) scale(1 1.25)" y="3.01" font-family="'Liberation Sans', Arial, sans-serif" font-size="6" font-weight="bold" text-anchor="middle" letter-spacing="0.77" stroke="#000" stroke-width="0.21">****</text>
<path d="M336.5 618 V560.4 H345 V573" stroke="#111" stroke-width="0.8" fill="none"/>
<text transform="translate(341.13 555.8) scale(1 1.25)" y="3.01" font-family="'Liberation Sans', Arial, sans-serif" font-size="6" font-weight="bold" text-anchor="middle" letter-spacing="0.77" stroke="#000" stroke-width="0.21">****</text>
<line x1="391" y1="616.4" x2="391" y2="619.9" stroke="#3a3a3a" stroke-width="0.5"/>
<line x1="389.8" y1="616.4" x2="392.2" y2="616.4" stroke="#3a3a3a" stroke-width="0.5"/>
<line x1="399" y1="571.4" x2="399" y2="574.9" stroke="#fb0a5f" stroke-width="0.5"/>
<line x1="397.8" y1="571.4" x2="400.2" y2="571.4" stroke="#fb0a5f" stroke-width="0.5"/>
<rect x="388.3" y="619.4" width="5.4" height="8.1" fill="#050505"/>
<rect x="396.3" y="574.4" width="5.4" height="53.1" fill="#fb0a5f"/>
<line x1="412.5" y1="620.6" x2="412.5" y2="622.5" stroke="#3a3a3a" stroke-width="0.5"/>
<line x1="411.3" y1="620.6" x2="413.7" y2="620.6" stroke="#3a3a3a" stroke-width="0.5"/>
<line x1="420.5" y1="576" x2="420.5" y2="579.1" stroke="#fb0a5f" stroke-width="0.5"/>
<line x1="419.3" y1="576" x2="421.7" y2="576" stroke="#fb0a5f" stroke-width="0.5"/>
<rect x="409.8" y="622" width="5.4" height="5.5" fill="#050505"/>
<rect x="417.8" y="578.6" width="5.4" height="48.9" fill="#fb0a5f"/>
<line x1="434" y1="618" x2="434" y2="621.5" stroke="#3a3a3a" stroke-width="0.5"/>
<line x1="432.8" y1="618" x2="435.2" y2="618" stroke="#3a3a3a" stroke-width="0.5"/>
<line x1="442" y1="570" x2="442" y2="573.5" stroke="#fb0a5f" stroke-width="0.5"/>
<line x1="440.8" y1="570" x2="443.2" y2="570" stroke="#fb0a5f" stroke-width="0.5"/>
<rect x="431.3" y="621" width="5.4" height="6.5" fill="#050505"/>
<rect x="439.3" y="573" width="5.4" height="54.5" fill="#fb0a5f"/>
<line x1="455.7" y1="619.4" x2="455.7" y2="622.1" stroke="#3a3a3a" stroke-width="0.5"/>
<line x1="454.5" y1="619.4" x2="456.9" y2="619.4" stroke="#3a3a3a" stroke-width="0.5"/>
<line x1="463.7" y1="576" x2="463.7" y2="582.1" stroke="#fb0a5f" stroke-width="0.5"/>
<line x1="462.5" y1="576" x2="464.9" y2="576" stroke="#fb0a5f" stroke-width="0.5"/>
<rect x="453" y="621.6" width="5.4" height="5.9" fill="#050505"/>
<rect x="461" y="581.6" width="5.4" height="45.9" fill="#fb0a5f"/>
<line x1="386" y1="623.8" x2="474" y2="623.8" stroke="#f4191f" stroke-width="1.3" stroke-dasharray="1.3 1.2"/>
<line x1="385.5" y1="560.5" x2="385.5" y2="628" stroke="#000" stroke-width="1"/>
<line x1="385" y1="627.5" x2="469" y2="627.5" stroke="#000" stroke-width="1"/>
<line x1="382.7" y1="627.5" x2="385.5" y2="627.5" stroke="#000" stroke-width="1"/>
<text x="382.4" y="629.05" font-family="'Liberation Sans', Arial, sans-serif" font-size="5" font-weight="bold" text-anchor="end" textLength="2.2" lengthAdjust="spacingAndGlyphs">0</text>
<line x1="382.7" y1="614.5" x2="385.5" y2="614.5" stroke="#000" stroke-width="1"/>
<text x="382.4" y="615.75" font-family="'Liberation Sans', Arial, sans-serif" font-size="5" font-weight="bold" text-anchor="end" textLength="4.39" lengthAdjust="spacingAndGlyphs">20</text>
<line x1="382.7" y1="600.5" x2="385.5" y2="600.5" stroke="#000" stroke-width="1"/>
<text x="382.4" y="602.45" font-family="'Liberation Sans', Arial, sans-serif" font-size="5" font-weight="bold" text-anchor="end" textLength="4.39" lengthAdjust="spacingAndGlyphs">40</text>
<line x1="382.7" y1="587.5" x2="385.5" y2="587.5" stroke="#000" stroke-width="1"/>
<text x="382.4" y="589.15" font-family="'Liberation Sans', Arial, sans-serif" font-size="5" font-weight="bold" text-anchor="end" textLength="4.39" lengthAdjust="spacingAndGlyphs">60</text>
<line x1="382.7" y1="574.5" x2="385.5" y2="574.5" stroke="#000" stroke-width="1"/>
<text x="382.4" y="575.85" font-family="'Liberation Sans', Arial, sans-serif" font-size="5" font-weight="bold" text-anchor="end" textLength="4.39" lengthAdjust="spacingAndGlyphs">80</text>
<line x1="382.7" y1="561.5" x2="385.5" y2="561.5" stroke="#000" stroke-width="1"/>
<text x="382.4" y="562.55" font-family="'Liberation Sans', Arial, sans-serif" font-size="5" font-weight="bold" text-anchor="end" textLength="6.59" lengthAdjust="spacingAndGlyphs">100</text>
<line x1="395.5" y1="627.5" x2="395.5" y2="630.02" stroke="#000" stroke-width="1"/>
<text transform="translate(395.4 635.1) scale(1 1.23) rotate(-45)" font-family="'Liberation Sans', Arial, sans-serif" font-size="4.1" font-weight="bold" text-anchor="end" stroke="#000" stroke-width="0.28">PEEK</text>
<line x1="416.5" y1="627.5" x2="416.5" y2="630.02" stroke="#000" stroke-width="1"/>
<text transform="translate(416.9 635.1) scale(1 1.23) rotate(-45)" font-family="'Liberation Sans', Arial, sans-serif" font-size="4.1" font-weight="bold" text-anchor="end" stroke="#000" stroke-width="0.28">10%HA/PEEK</text>
<line x1="438.5" y1="627.5" x2="438.5" y2="630.02" stroke="#000" stroke-width="1"/>
<text transform="translate(438.4 635.1) scale(1 1.23) rotate(-45)" font-family="'Liberation Sans', Arial, sans-serif" font-size="4.1" font-weight="bold" text-anchor="end" stroke="#000" stroke-width="0.28">20%HA/PEEK</text>
<line x1="459.5" y1="627.5" x2="459.5" y2="630.02" stroke="#000" stroke-width="1"/>
<text transform="translate(460.1 635.1) scale(1 1.23) rotate(-45)" font-family="'Liberation Sans', Arial, sans-serif" font-size="4.1" font-weight="bold" text-anchor="end" stroke="#000" stroke-width="0.28">30%HA/PEEK</text>
<text x="371.8" y="594.3" font-family="'Liberation Sans', Arial, sans-serif" font-size="4.9" font-weight="bold" text-anchor="middle" textLength="61" lengthAdjust="spacingAndGlyphs" transform="rotate(-90 371.8 594.3)">Impact strength (KJ/m<tspan font-size="3.6" dy="-1.8">2</tspan><tspan dy="1.8">)</tspan></text>
<path d="M390.5 612.6 V562.1 H399.1 V567.6" stroke="#111" stroke-width="0.8" fill="none"/>
<text transform="translate(395.19 558.2) scale(1 1.25)" y="3.01" font-family="'Liberation Sans', Arial, sans-serif" font-size="6" font-weight="bold" text-anchor="middle" letter-spacing="0.77" stroke="#000" stroke-width="0.21">****</text>
<path d="M412.2 616 V562.1 H420.8 V575" stroke="#111" stroke-width="0.8" fill="none"/>
<text transform="translate(416.88 558.2) scale(1 1.25)" y="3.01" font-family="'Liberation Sans', Arial, sans-serif" font-size="6" font-weight="bold" text-anchor="middle" letter-spacing="0.77" stroke="#000" stroke-width="0.21">****</text>
<path d="M434 613.5 V562.1 H442.4 V568" stroke="#111" stroke-width="0.8" fill="none"/>
<text transform="translate(438.58 558.2) scale(1 1.25)" y="3.01" font-family="'Liberation Sans', Arial, sans-serif" font-size="6" font-weight="bold" text-anchor="middle" letter-spacing="0.77" stroke="#000" stroke-width="0.21">****</text>
<path d="M455.6 615 V562.1 H464 V575" stroke="#111" stroke-width="0.8" fill="none"/>
<text transform="translate(460.19 558.2) scale(1 1.25)" y="3.01" font-family="'Liberation Sans', Arial, sans-serif" font-size="6" font-weight="bold" text-anchor="middle" letter-spacing="0.77" stroke="#000" stroke-width="0.21">****</text>
<line x1="34.8" y1="683.4" x2="34.8" y2="684.5" stroke="#3a3a3a" stroke-width="0.5"/>
<line x1="33.6" y1="683.4" x2="36" y2="683.4" stroke="#3a3a3a" stroke-width="0.5"/>
<line x1="42.8" y1="702.6" x2="42.8" y2="703.5" stroke="#fb0a5f" stroke-width="0.5"/>
<line x1="41.6" y1="702.6" x2="44" y2="702.6" stroke="#fb0a5f" stroke-width="0.5"/>
<rect x="32.1" y="684" width="5.4" height="54.5" fill="#050505"/>
<rect x="40.1" y="703" width="5.4" height="35.5" fill="#fb0a5f"/>
<line x1="56.3" y1="705.4" x2="56.3" y2="706.5" stroke="#3a3a3a" stroke-width="0.5"/>
<line x1="55.1" y1="705.4" x2="57.5" y2="705.4" stroke="#3a3a3a" stroke-width="0.5"/>
<line x1="64.3" y1="702.6" x2="64.3" y2="703.5" stroke="#fb0a5f" stroke-width="0.5"/>
<line x1="63.1" y1="702.6" x2="65.5" y2="702.6" stroke="#fb0a5f" stroke-width="0.5"/>
<rect x="53.6" y="706" width="5.4" height="32.5" fill="#050505"/>
<rect x="61.6" y="703" width="5.4" height="35.5" fill="#fb0a5f"/>
<line x1="78" y1="693" x2="78" y2="694.1" stroke="#3a3a3a" stroke-width="0.5"/>
<line x1="76.8" y1="693" x2="79.2" y2="693" stroke="#3a3a3a" stroke-width="0.5"/>
<line x1="86" y1="697.6" x2="86" y2="698.5" stroke="#fb0a5f" stroke-width="0.5"/>
<line x1="84.8" y1="697.6" x2="87.2" y2="697.6" stroke="#fb0a5f" stroke-width="0.5"/>
<rect x="75.3" y="693.6" width="5.4" height="44.9" fill="#050505"/>
<rect x="83.3" y="698" width="5.4" height="40.5" fill="#fb0a5f"/>
<line x1="99.7" y1="704.6" x2="99.7" y2="705.5" stroke="#3a3a3a" stroke-width="0.5"/>
<line x1="98.5" y1="704.6" x2="100.9" y2="704.6" stroke="#3a3a3a" stroke-width="0.5"/>
<line x1="107.7" y1="710" x2="107.7" y2="710.9" stroke="#fb0a5f" stroke-width="0.5"/>
<line x1="106.5" y1="710" x2="108.9" y2="710" stroke="#fb0a5f" stroke-width="0.5"/>
<rect x="97" y="705" width="5.4" height="33.5" fill="#050505"/>
<rect x="105" y="710.4" width="5.4" height="28.1" fill="#fb0a5f"/>
<line x1="30" y1="698" x2="118" y2="698" stroke="#f4191f" stroke-width="1.3" stroke-dasharray="1.3 1.2"/>
<line x1="29.5" y1="665.6" x2="29.5" y2="739" stroke="#000" stroke-width="1"/>
<line x1="29" y1="738.5" x2="113" y2="738.5" stroke="#000" stroke-width="1"/>
<line x1="26.7" y1="738.5" x2="29.5" y2="738.5" stroke="#000" stroke-width="1"/>
<text x="26.4" y="740.05" font-family="'Liberation Sans', Arial, sans-serif" font-size="5" font-weight="bold" text-anchor="end" textLength="2.2" lengthAdjust="spacingAndGlyphs">0</text>
<line x1="26.7" y1="720.5" x2="29.5" y2="720.5" stroke="#000" stroke-width="1"/>
<text x="26.4" y="721.95" font-family="'Liberation Sans', Arial, sans-serif" font-size="5" font-weight="bold" text-anchor="end" textLength="4.39" lengthAdjust="spacingAndGlyphs">50</text>
<line x1="26.7" y1="702.5" x2="29.5" y2="702.5" stroke="#000" stroke-width="1"/>
<text x="26.4" y="703.85" font-family="'Liberation Sans', Arial, sans-serif" font-size="5" font-weight="bold" text-anchor="end" textLength="6.59" lengthAdjust="spacingAndGlyphs">100</text>
<line x1="26.7" y1="684.5" x2="29.5" y2="684.5" stroke="#000" stroke-width="1"/>
<text x="26.4" y="685.75" font-family="'Liberation Sans', Arial, sans-serif" font-size="5" font-weight="bold" text-anchor="end" textLength="6.59" lengthAdjust="spacingAndGlyphs">150</text>
<line x1="26.7" y1="666.5" x2="29.5" y2="666.5" stroke="#000" stroke-width="1"/>
<text x="26.4" y="667.65" font-family="'Liberation Sans', Arial, sans-serif" font-size="5" font-weight="bold" text-anchor="end" textLength="6.59" lengthAdjust="spacingAndGlyphs">200</text>
<line x1="38.5" y1="738.5" x2="38.5" y2="741.02" stroke="#000" stroke-width="1"/>
<text transform="translate(39.2 746.1) scale(1 1.23) rotate(-45)" font-family="'Liberation Sans', Arial, sans-serif" font-size="4.1" font-weight="bold" text-anchor="end" stroke="#000" stroke-width="0.28">PEEK</text>
<line x1="60.5" y1="738.5" x2="60.5" y2="741.02" stroke="#000" stroke-width="1"/>
<text transform="translate(60.7 746.1) scale(1 1.23) rotate(-45)" font-family="'Liberation Sans', Arial, sans-serif" font-size="4.1" font-weight="bold" text-anchor="end" stroke="#000" stroke-width="0.28">10%HA/PEEK</text>
<line x1="82.5" y1="738.5" x2="82.5" y2="741.02" stroke="#000" stroke-width="1"/>
<text transform="translate(82.4 746.1) scale(1 1.23) rotate(-45)" font-family="'Liberation Sans', Arial, sans-serif" font-size="4.1" font-weight="bold" text-anchor="end" stroke="#000" stroke-width="0.28">20%HA/PEEK</text>
<line x1="103.5" y1="738.5" x2="103.5" y2="741.02" stroke="#000" stroke-width="1"/>
<text transform="translate(104.1 746.1) scale(1 1.23) rotate(-45)" font-family="'Liberation Sans', Arial, sans-serif" font-size="4.1" font-weight="bold" text-anchor="end" stroke="#000" stroke-width="0.28">30%HA/PEEK</text>
<text x="15.8" y="701.8" font-family="'Liberation Sans', Arial, sans-serif" font-size="4.9" font-weight="bold" text-anchor="middle" textLength="67.6" lengthAdjust="spacingAndGlyphs" transform="rotate(-90 15.8 701.8)">Bending strength (MPa)</text>
<path d="M34.4 679 V675 H43 V697" stroke="#111" stroke-width="0.8" fill="none"/>
<text transform="translate(39.09 670.6) scale(1 1.25)" y="3.01" font-family="'Liberation Sans', Arial, sans-serif" font-size="6" font-weight="bold" text-anchor="middle" letter-spacing="0.77" stroke="#000" stroke-width="0.21">****</text>
<path d="M56 699 V675 H64.4 V694.4" stroke="#111" stroke-width="0.8" fill="none"/>
<text transform="translate(60.59 670.6) scale(1 1.25)" y="3.01" font-family="'Liberation Sans', Arial, sans-serif" font-size="6" font-weight="bold" text-anchor="middle" letter-spacing="0.77" stroke="#000" stroke-width="0.21">****</text>
<path d="M77.6 688 V675 H86 V692" stroke="#111" stroke-width="0.8" fill="none"/>
<text transform="translate(82.19 670.6) scale(1 1.25)" y="3.01" font-family="'Liberation Sans', Arial, sans-serif" font-size="6" font-weight="bold" text-anchor="middle" letter-spacing="0.77" stroke="#000" stroke-width="0.21">****</text>
<path d="M99.4 703 V675 H108 V709" stroke="#111" stroke-width="0.8" fill="none"/>
<text transform="translate(104.09 670.6) scale(1 1.25)" y="3.01" font-family="'Liberation Sans', Arial, sans-serif" font-size="6" font-weight="bold" text-anchor="middle" letter-spacing="0.77" stroke="#000" stroke-width="0.21">****</text>
<line x1="155.7" y1="683.4" x2="155.7" y2="684.9" stroke="#3a3a3a" stroke-width="0.5"/>
<line x1="154.5" y1="683.4" x2="156.9" y2="683.4" stroke="#3a3a3a" stroke-width="0.5"/>
<line x1="163.7" y1="701" x2="163.7" y2="701.9" stroke="#fb0a5f" stroke-width="0.5"/>
<line x1="162.5" y1="701" x2="164.9" y2="701" stroke="#fb0a5f" stroke-width="0.5"/>
<rect x="153" y="684.4" width="5.4" height="54.1" fill="#050505"/>
<rect x="161" y="701.4" width="5.4" height="37.1" fill="#fb0a5f"/>
<line x1="177.5" y1="685.4" x2="177.5" y2="686.5" stroke="#3a3a3a" stroke-width="0.5"/>
<line x1="176.3" y1="685.4" x2="178.7" y2="685.4" stroke="#3a3a3a" stroke-width="0.5"/>
<line x1="185.5" y1="695.2" x2="185.5" y2="696.1" stroke="#fb0a5f" stroke-width="0.5"/>
<line x1="184.3" y1="695.2" x2="186.7" y2="695.2" stroke="#fb0a5f" stroke-width="0.5"/>
<rect x="174.8" y="686" width="5.4" height="52.5" fill="#050505"/>
<rect x="182.8" y="695.6" width="5.4" height="42.9" fill="#fb0a5f"/>
<line x1="199" y1="678.4" x2="199" y2="681.1" stroke="#3a3a3a" stroke-width="0.5"/>
<line x1="197.8" y1="678.4" x2="200.2" y2="678.4" stroke="#3a3a3a" stroke-width="0.5"/>
<line x1="207" y1="694" x2="207" y2="694.9" stroke="#fb0a5f" stroke-width="0.5"/>
<line x1="205.8" y1="694" x2="208.2" y2="694" stroke="#fb0a5f" stroke-width="0.5"/>
<rect x="196.3" y="680.6" width="5.4" height="57.9" fill="#050505"/>
<rect x="204.3" y="694.4" width="5.4" height="44.1" fill="#fb0a5f"/>
<line x1="220.7" y1="682" x2="220.7" y2="683.1" stroke="#3a3a3a" stroke-width="0.5"/>
<line x1="219.5" y1="682" x2="221.9" y2="682" stroke="#3a3a3a" stroke-width="0.5"/>
<line x1="228.7" y1="697.6" x2="228.7" y2="698.5" stroke="#fb0a5f" stroke-width="0.5"/>
<line x1="227.5" y1="697.6" x2="229.9" y2="697.6" stroke="#fb0a5f" stroke-width="0.5"/>
<rect x="218" y="682.6" width="5.4" height="55.9" fill="#050505"/>
<rect x="226" y="698" width="5.4" height="40.5" fill="#fb0a5f"/>
<line x1="150" y1="695.4" x2="238.4" y2="695.4" stroke="#f4191f" stroke-width="1.3" stroke-dasharray="1.3 1.2"/>
<line x1="150.5" y1="666.1" x2="150.5" y2="739" stroke="#000" stroke-width="1"/>
<line x1="150" y1="738.5" x2="234.4" y2="738.5" stroke="#000" stroke-width="1"/>
<line x1="147.7" y1="738.5" x2="150.5" y2="738.5" stroke="#000" stroke-width="1"/>
<text x="147.4" y="740.05" font-family="'Liberation Sans', Arial, sans-serif" font-size="5" font-weight="bold" text-anchor="end" textLength="2.2" lengthAdjust="spacingAndGlyphs">0</text>
<line x1="147.7" y1="724.5" x2="150.5" y2="724.5" stroke="#000" stroke-width="1"/>
<text x="147.4" y="725.67" font-family="'Liberation Sans', Arial, sans-serif" font-size="5" font-weight="bold" text-anchor="end" textLength="8.78" lengthAdjust="spacingAndGlyphs">1000</text>
<line x1="147.7" y1="709.5" x2="150.5" y2="709.5" stroke="#000" stroke-width="1"/>
<text x="147.4" y="711.29" font-family="'Liberation Sans', Arial, sans-serif" font-size="5" font-weight="bold" text-anchor="end" textLength="8.78" lengthAdjust="spacingAndGlyphs">2000</text>
<line x1="147.7" y1="695.5" x2="150.5" y2="695.5" stroke="#000" stroke-width="1"/>
<text x="147.4" y="696.91" font-family="'Liberation Sans', Arial, sans-serif" font-size="5" font-weight="bold" text-anchor="end" textLength="8.78" lengthAdjust="spacingAndGlyphs">3000</text>
<line x1="147.7" y1="680.5" x2="150.5" y2="680.5" stroke="#000" stroke-width="1"/>
<text x="147.4" y="682.53" font-family="'Liberation Sans', Arial, sans-serif" font-size="5" font-weight="bold" text-anchor="end" textLength="8.78" lengthAdjust="spacingAndGlyphs">4000</text>
<line x1="147.7" y1="666.5" x2="150.5" y2="666.5" stroke="#000" stroke-width="1"/>
<text x="147.4" y="668.15" font-family="'Liberation Sans', Arial, sans-serif" font-size="5" font-weight="bold" text-anchor="end" textLength="8.78" lengthAdjust="spacingAndGlyphs">5000</text>
<line x1="159.5" y1="738.5" x2="159.5" y2="741.02" stroke="#000" stroke-width="1"/>
<text transform="translate(160.1 746.1) scale(1 1.23) rotate(-45)" font-family="'Liberation Sans', Arial, sans-serif" font-size="4.1" font-weight="bold" text-anchor="end" stroke="#000" stroke-width="0.28">PEEK</text>
<line x1="181.5" y1="738.5" x2="181.5" y2="741.02" stroke="#000" stroke-width="1"/>
<text transform="translate(181.9 746.1) scale(1 1.23) rotate(-45)" font-family="'Liberation Sans', Arial, sans-serif" font-size="4.1" font-weight="bold" text-anchor="end" stroke="#000" stroke-width="0.28">10%HA/PEEK</text>
<line x1="203.5" y1="738.5" x2="203.5" y2="741.02" stroke="#000" stroke-width="1"/>
<text transform="translate(203.4 746.1) scale(1 1.23) rotate(-45)" font-family="'Liberation Sans', Arial, sans-serif" font-size="4.1" font-weight="bold" text-anchor="end" stroke="#000" stroke-width="0.28">20%HA/PEEK</text>
<line x1="224.5" y1="738.5" x2="224.5" y2="741.02" stroke="#000" stroke-width="1"/>
<text transform="translate(225.1 746.1) scale(1 1.23) rotate(-45)" font-family="'Liberation Sans', Arial, sans-serif" font-size="4.1" font-weight="bold" text-anchor="end" stroke="#000" stroke-width="0.28">30%HA/PEEK</text>
<text x="134.4" y="701.8" font-family="'Liberation Sans', Arial, sans-serif" font-size="4.9" font-weight="bold" text-anchor="middle" textLength="67.6" lengthAdjust="spacingAndGlyphs" transform="rotate(-90 134.4 701.8)">Bending modulus (MPa)</text>
<path d="M155 680 V670.4 H163.6 V698.4" stroke="#111" stroke-width="0.8" fill="none"/>
<text transform="translate(159.69 666) scale(1 1.25)" y="3.01" font-family="'Liberation Sans', Arial, sans-serif" font-size="6" font-weight="bold" text-anchor="middle" letter-spacing="0.77" stroke="#000" stroke-width="0.21">****</text>
<path d="M177 680 V670.4 H185.4 V690" stroke="#111" stroke-width="0.8" fill="none"/>
<text transform="translate(181.58 666) scale(1 1.25)" y="3.01" font-family="'Liberation Sans', Arial, sans-serif" font-size="6" font-weight="bold" text-anchor="middle" letter-spacing="0.77" stroke="#000" stroke-width="0.21">****</text>
<path d="M198.6 677 V670.4 H207 V689" stroke="#111" stroke-width="0.8" fill="none"/>
<text transform="translate(203.19 666) scale(1 1.25)" y="3.01" font-family="'Liberation Sans', Arial, sans-serif" font-size="6" font-weight="bold" text-anchor="middle" letter-spacing="0.77" stroke="#000" stroke-width="0.21">****</text>
<path d="M220.4 679 V670.4 H229 V693" stroke="#111" stroke-width="0.8" fill="none"/>
<text transform="translate(225.08 666) scale(1 1.25)" y="3.01" font-family="'Liberation Sans', Arial, sans-serif" font-size="6" font-weight="bold" text-anchor="middle" letter-spacing="0.77" stroke="#000" stroke-width="0.21">****</text>
<line x1="271.8" y1="677.6" x2="271.8" y2="680.5" stroke="#3a3a3a" stroke-width="0.5"/>
<line x1="270.6" y1="677.6" x2="273" y2="677.6" stroke="#3a3a3a" stroke-width="0.5"/>
<line x1="279.8" y1="703" x2="279.8" y2="704.1" stroke="#fb0a5f" stroke-width="0.5"/>
<line x1="278.6" y1="703" x2="281" y2="703" stroke="#fb0a5f" stroke-width="0.5"/>
<rect x="269.1" y="680" width="5.4" height="59.5" fill="#050505"/>
<rect x="277.1" y="703.6" width="5.4" height="35.9" fill="#fb0a5f"/>
<line x1="293.7" y1="695.6" x2="293.7" y2="698.1" stroke="#3a3a3a" stroke-width="0.5"/>
<line x1="292.5" y1="695.6" x2="294.9" y2="695.6" stroke="#3a3a3a" stroke-width="0.5"/>
<line x1="301.7" y1="707.6" x2="301.7" y2="709.1" stroke="#fb0a5f" stroke-width="0.5"/>
<line x1="300.5" y1="707.6" x2="302.9" y2="707.6" stroke="#fb0a5f" stroke-width="0.5"/>
<rect x="291" y="697.6" width="5.4" height="41.9" fill="#050505"/>
<rect x="299" y="708.6" width="5.4" height="30.9" fill="#fb0a5f"/>
<line x1="315.2" y1="688.6" x2="315.2" y2="689.9" stroke="#3a3a3a" stroke-width="0.5"/>
<line x1="314" y1="688.6" x2="316.4" y2="688.6" stroke="#3a3a3a" stroke-width="0.5"/>
<line x1="323.2" y1="697.4" x2="323.2" y2="699.9" stroke="#fb0a5f" stroke-width="0.5"/>
<line x1="322" y1="697.4" x2="324.4" y2="697.4" stroke="#fb0a5f" stroke-width="0.5"/>
<rect x="312.5" y="689.4" width="5.4" height="50.1" fill="#050505"/>
<rect x="320.5" y="699.4" width="5.4" height="40.1" fill="#fb0a5f"/>
<line x1="336.8" y1="695" x2="336.8" y2="696.5" stroke="#3a3a3a" stroke-width="0.5"/>
<line x1="335.6" y1="695" x2="338" y2="695" stroke="#3a3a3a" stroke-width="0.5"/>
<line x1="344.8" y1="711" x2="344.8" y2="712.1" stroke="#fb0a5f" stroke-width="0.5"/>
<line x1="343.6" y1="711" x2="346" y2="711" stroke="#fb0a5f" stroke-width="0.5"/>
<rect x="334.1" y="696" width="5.4" height="43.5" fill="#050505"/>
<rect x="342.1" y="711.6" width="5.4" height="27.9" fill="#fb0a5f"/>
<line x1="266.5" y1="670.9" x2="266.5" y2="740" stroke="#000" stroke-width="1"/>
<line x1="266" y1="739.5" x2="350" y2="739.5" stroke="#000" stroke-width="1"/>
<line x1="263.7" y1="739.5" x2="266.5" y2="739.5" stroke="#000" stroke-width="1"/>
<text x="263.4" y="741.05" font-family="'Liberation Sans', Arial, sans-serif" font-size="5" font-weight="bold" text-anchor="end" textLength="2.2" lengthAdjust="spacingAndGlyphs">0</text>
<line x1="263.7" y1="716.5" x2="266.5" y2="716.5" stroke="#000" stroke-width="1"/>
<text x="263.4" y="718.35" font-family="'Liberation Sans', Arial, sans-serif" font-size="5" font-weight="bold" text-anchor="end" textLength="4.39" lengthAdjust="spacingAndGlyphs">50</text>
<line x1="263.7" y1="694.5" x2="266.5" y2="694.5" stroke="#000" stroke-width="1"/>
<text x="263.4" y="695.65" font-family="'Liberation Sans', Arial, sans-serif" font-size="5" font-weight="bold" text-anchor="end" textLength="6.59" lengthAdjust="spacingAndGlyphs">100</text>
<line x1="263.7" y1="671.5" x2="266.5" y2="671.5" stroke="#000" stroke-width="1"/>
<text x="263.4" y="672.95" font-family="'Liberation Sans', Arial, sans-serif" font-size="5" font-weight="bold" text-anchor="end" textLength="6.59" lengthAdjust="spacingAndGlyphs">150</text>
<line x1="275.5" y1="739.5" x2="275.5" y2="742.02" stroke="#000" stroke-width="1"/>
<text transform="translate(276.2 747.1) scale(1 1.23) rotate(-45)" font-family="'Liberation Sans', Arial, sans-serif" font-size="4.1" font-weight="bold" text-anchor="end" stroke="#000" stroke-width="0.28">PEEK</text>
<line x1="297.5" y1="739.5" x2="297.5" y2="742.02" stroke="#000" stroke-width="1"/>
<text transform="translate(298.1 747.1) scale(1 1.23) rotate(-45)" font-family="'Liberation Sans', Arial, sans-serif" font-size="4.1" font-weight="bold" text-anchor="end" stroke="#000" stroke-width="0.28">10%HA/PEEK</text>
<line x1="319.5" y1="739.5" x2="319.5" y2="742.02" stroke="#000" stroke-width="1"/>
<text transform="translate(319.6 747.1) scale(1 1.23) rotate(-45)" font-family="'Liberation Sans', Arial, sans-serif" font-size="4.1" font-weight="bold" text-anchor="end" stroke="#000" stroke-width="0.28">20%HA/PEEK</text>
<line x1="340.5" y1="739.5" x2="340.5" y2="742.02" stroke="#000" stroke-width="1"/>
<text transform="translate(341.2 747.1) scale(1 1.23) rotate(-45)" font-family="'Liberation Sans', Arial, sans-serif" font-size="4.1" font-weight="bold" text-anchor="end" stroke="#000" stroke-width="0.28">30%HA/PEEK</text>
<text x="253" y="704.8" font-family="'Liberation Sans', Arial, sans-serif" font-size="4.9" font-weight="bold" text-anchor="middle" textLength="77.6" lengthAdjust="spacingAndGlyphs" transform="rotate(-90 253 704.8)">Compression strength (MPa)</text>
<path d="M271.4 674 V670 H280 V701" stroke="#111" stroke-width="0.8" fill="none"/>
<text transform="translate(276.08 665.6) scale(1 1.25)" y="3.01" font-family="'Liberation Sans', Arial, sans-serif" font-size="6" font-weight="bold" text-anchor="middle" letter-spacing="0.77" stroke="#000" stroke-width="0.21">****</text>
<path d="M293.4 695 V670 H301.6 V706" stroke="#111" stroke-width="0.8" fill="none"/>
<text transform="translate(297.88 665.6) scale(1 1.25)" y="3.01" font-family="'Liberation Sans', Arial, sans-serif" font-size="6" font-weight="bold" text-anchor="middle" letter-spacing="0.77" stroke="#000" stroke-width="0.21">****</text>
<path d="M315 687 V670 H323.4 V696" stroke="#111" stroke-width="0.8" fill="none"/>
<text transform="translate(319.58 665.6) scale(1 1.25)" y="3.01" font-family="'Liberation Sans', Arial, sans-serif" font-size="6" font-weight="bold" text-anchor="middle" letter-spacing="0.77" stroke="#000" stroke-width="0.21">****</text>
<path d="M336.4 694 V670 H345 V710" stroke="#111" stroke-width="0.8" fill="none"/>
<text transform="translate(341.08 665.6) scale(1 1.25)" y="3.01" font-family="'Liberation Sans', Arial, sans-serif" font-size="6" font-weight="bold" text-anchor="middle" letter-spacing="0.77" stroke="#000" stroke-width="0.21">****</text>
<line x1="391.8" y1="687" x2="391.8" y2="689.1" stroke="#3a3a3a" stroke-width="0.5"/>
<line x1="390.6" y1="687" x2="393" y2="687" stroke="#3a3a3a" stroke-width="0.5"/>
<line x1="399.8" y1="702.6" x2="399.8" y2="704.1" stroke="#fb0a5f" stroke-width="0.5"/>
<line x1="398.6" y1="702.6" x2="401" y2="702.6" stroke="#fb0a5f" stroke-width="0.5"/>
<rect x="389.1" y="688.6" width="5.4" height="48.9" fill="#050505"/>
<rect x="397.1" y="703.6" width="5.4" height="33.9" fill="#fb0a5f"/>
<line x1="413.7" y1="685.6" x2="413.7" y2="686.9" stroke="#3a3a3a" stroke-width="0.5"/>
<line x1="412.5" y1="685.6" x2="414.9" y2="685.6" stroke="#3a3a3a" stroke-width="0.5"/>
<line x1="421.7" y1="697" x2="421.7" y2="698.5" stroke="#fb0a5f" stroke-width="0.5"/>
<line x1="420.5" y1="697" x2="422.9" y2="697" stroke="#fb0a5f" stroke-width="0.5"/>
<rect x="411" y="686.4" width="5.4" height="51.1" fill="#050505"/>
<rect x="419" y="698" width="5.4" height="39.5" fill="#fb0a5f"/>
<line x1="435.2" y1="683" x2="435.2" y2="687.1" stroke="#3a3a3a" stroke-width="0.5"/>
<line x1="434" y1="683" x2="436.4" y2="683" stroke="#3a3a3a" stroke-width="0.5"/>
<line x1="443.2" y1="690" x2="443.2" y2="692.5" stroke="#fb0a5f" stroke-width="0.5"/>
<line x1="442" y1="690" x2="444.4" y2="690" stroke="#fb0a5f" stroke-width="0.5"/>
<rect x="432.5" y="686.6" width="5.4" height="50.9" fill="#050505"/>
<rect x="440.5" y="692" width="5.4" height="45.5" fill="#fb0a5f"/>
<line x1="456.7" y1="690.4" x2="456.7" y2="691.5" stroke="#3a3a3a" stroke-width="0.5"/>
<line x1="455.5" y1="690.4" x2="457.9" y2="690.4" stroke="#3a3a3a" stroke-width="0.5"/>
<line x1="464.7" y1="693.6" x2="464.7" y2="695.9" stroke="#fb0a5f" stroke-width="0.5"/>
<line x1="463.5" y1="693.6" x2="465.9" y2="693.6" stroke="#fb0a5f" stroke-width="0.5"/>
<rect x="454" y="691" width="5.4" height="46.5" fill="#050505"/>
<rect x="462" y="695.4" width="5.4" height="42.1" fill="#fb0a5f"/>
<line x1="386.5" y1="665.1" x2="386.5" y2="738" stroke="#000" stroke-width="1"/>
<line x1="386" y1="737.5" x2="469" y2="737.5" stroke="#000" stroke-width="1"/>
<line x1="383.7" y1="737.5" x2="386.5" y2="737.5" stroke="#000" stroke-width="1"/>
<text x="383.4" y="739.05" font-family="'Liberation Sans', Arial, sans-serif" font-size="5" font-weight="bold" text-anchor="end" textLength="2.2" lengthAdjust="spacingAndGlyphs">0</text>
<line x1="383.7" y1="719.5" x2="386.5" y2="719.5" stroke="#000" stroke-width="1"/>
<text x="383.4" y="721.07" font-family="'Liberation Sans', Arial, sans-serif" font-size="5" font-weight="bold" text-anchor="end" textLength="8.78" lengthAdjust="spacingAndGlyphs">1000</text>
<line x1="383.7" y1="701.5" x2="386.5" y2="701.5" stroke="#000" stroke-width="1"/>
<text x="383.4" y="703.1" font-family="'Liberation Sans', Arial, sans-serif" font-size="5" font-weight="bold" text-anchor="end" textLength="8.78" lengthAdjust="spacingAndGlyphs">2000</text>
<line x1="383.7" y1="683.5" x2="386.5" y2="683.5" stroke="#000" stroke-width="1"/>
<text x="383.4" y="685.12" font-family="'Liberation Sans', Arial, sans-serif" font-size="5" font-weight="bold" text-anchor="end" textLength="8.78" lengthAdjust="spacingAndGlyphs">3000</text>
<line x1="383.7" y1="665.5" x2="386.5" y2="665.5" stroke="#000" stroke-width="1"/>
<text x="383.4" y="667.15" font-family="'Liberation Sans', Arial, sans-serif" font-size="5" font-weight="bold" text-anchor="end" textLength="8.78" lengthAdjust="spacingAndGlyphs">4000</text>
<line x1="395.5" y1="737.5" x2="395.5" y2="740.02" stroke="#000" stroke-width="1"/>
<text transform="translate(396.2 745.1) scale(1 1.23) rotate(-45)" font-family="'Liberation Sans', Arial, sans-serif" font-size="4.1" font-weight="bold" text-anchor="end" stroke="#000" stroke-width="0.28">PEEK</text>
<line x1="417.5" y1="737.5" x2="417.5" y2="740.02" stroke="#000" stroke-width="1"/>
<text transform="translate(418.1 745.1) scale(1 1.23) rotate(-45)" font-family="'Liberation Sans', Arial, sans-serif" font-size="4.1" font-weight="bold" text-anchor="end" stroke="#000" stroke-width="0.28">10%HA/PEEK</text>
<line x1="439.5" y1="737.5" x2="439.5" y2="740.02" stroke="#000" stroke-width="1"/>
<text transform="translate(439.6 745.1) scale(1 1.23) rotate(-45)" font-family="'Liberation Sans', Arial, sans-serif" font-size="4.1" font-weight="bold" text-anchor="end" stroke="#000" stroke-width="0.28">20%HA/PEEK</text>
<line x1="460.5" y1="737.5" x2="460.5" y2="740.02" stroke="#000" stroke-width="1"/>
<text transform="translate(461.1 745.1) scale(1 1.23) rotate(-45)" font-family="'Liberation Sans', Arial, sans-serif" font-size="4.1" font-weight="bold" text-anchor="end" stroke="#000" stroke-width="0.28">30%HA/PEEK</text>
<text x="370.4" y="702.4" font-family="'Liberation Sans', Arial, sans-serif" font-size="4.9" font-weight="bold" text-anchor="middle" textLength="80" lengthAdjust="spacingAndGlyphs" transform="rotate(-90 370.4 702.4)">Compression modulus (MPa)</text>
<path d="M391.4 686 V675.6 H400 V700" stroke="#111" stroke-width="0.8" fill="none"/>
<text transform="translate(396.08 671) scale(1 1.25)" y="3.01" font-family="'Liberation Sans', Arial, sans-serif" font-size="6" font-weight="bold" text-anchor="middle" letter-spacing="0.77" stroke="#000" stroke-width="0.21">****</text>
<path d="M413 684.4 V675.6 H421.6 V696" stroke="#111" stroke-width="0.8" fill="none"/>
<text transform="translate(417.69 671) scale(1 1.25)" y="3.01" font-family="'Liberation Sans', Arial, sans-serif" font-size="6" font-weight="bold" text-anchor="middle" letter-spacing="0.77" stroke="#000" stroke-width="0.21">****</text>
<path d="M435 682 V675.6 H443.4 V684.4" stroke="#111" stroke-width="0.8" fill="none"/>
<text transform="translate(439.58 671) scale(1 1.25)" y="3.01" font-family="'Liberation Sans', Arial, sans-serif" font-size="6" font-weight="bold" text-anchor="middle" letter-spacing="0.77" stroke="#000" stroke-width="0.21">**</text>
<path d="M457 689 V675.6 H465.4 V688" stroke="#111" stroke-width="0.8" fill="none"/>
<text transform="translate(461.58 671) scale(1 1.25)" y="3.01" font-family="'Liberation Sans', Arial, sans-serif" font-size="6" font-weight="bold" text-anchor="middle" letter-spacing="0.77" stroke="#000" stroke-width="0.21">**</text>
<rect x="453" y="539.7" width="6" height="3.4" fill="#050505"/>
<rect x="453" y="548.8" width="6" height="3.5" fill="#fb0a5f"/>
<text x="462" y="542.7" font-family="'Liberation Sans', Arial, sans-serif" font-size="4.8" fill="#222" textLength="8" lengthAdjust="spacingAndGlyphs">high</text>
<text x="462" y="551.9" font-family="'Liberation Sans', Arial, sans-serif" font-size="4.8" fill="#222" textLength="6.6" lengthAdjust="spacingAndGlyphs">low</text>
<text x="5.6" y="12.6" font-family="'Liberation Sans', Arial, sans-serif" font-size="14.5" font-weight="bold" textLength="7.34" lengthAdjust="spacingAndGlyphs">a</text>
<text x="293.2" y="13.2" font-family="'Liberation Sans', Arial, sans-serif" font-size="14.5" font-weight="bold" textLength="8.06" lengthAdjust="spacingAndGlyphs">b</text>
<text x="1" y="245.9" font-family="'Liberation Sans', Arial, sans-serif" font-size="14.5" font-weight="bold" textLength="7.34" lengthAdjust="spacingAndGlyphs">c</text>
<text x="292" y="152.6" font-family="'Liberation Sans', Arial, sans-serif" font-size="14.5" font-weight="bold" textLength="8.06" lengthAdjust="spacingAndGlyphs">d</text>
<text x="292.8" y="286.7" font-family="'Liberation Sans', Arial, sans-serif" font-size="14.5" font-weight="bold" textLength="7.34" lengthAdjust="spacingAndGlyphs">e</text>
<text x="296.8" y="413.4" font-family="'Liberation Sans', Arial, sans-serif" font-size="14.5" font-weight="bold" textLength="4.39" lengthAdjust="spacingAndGlyphs">f</text>
<text x="1.5" y="549" font-family="'Liberation Sans', Arial, sans-serif" font-size="14.5" font-weight="bold" textLength="8.06" lengthAdjust="spacingAndGlyphs">g</text>
</svg>
</body>
</html>
